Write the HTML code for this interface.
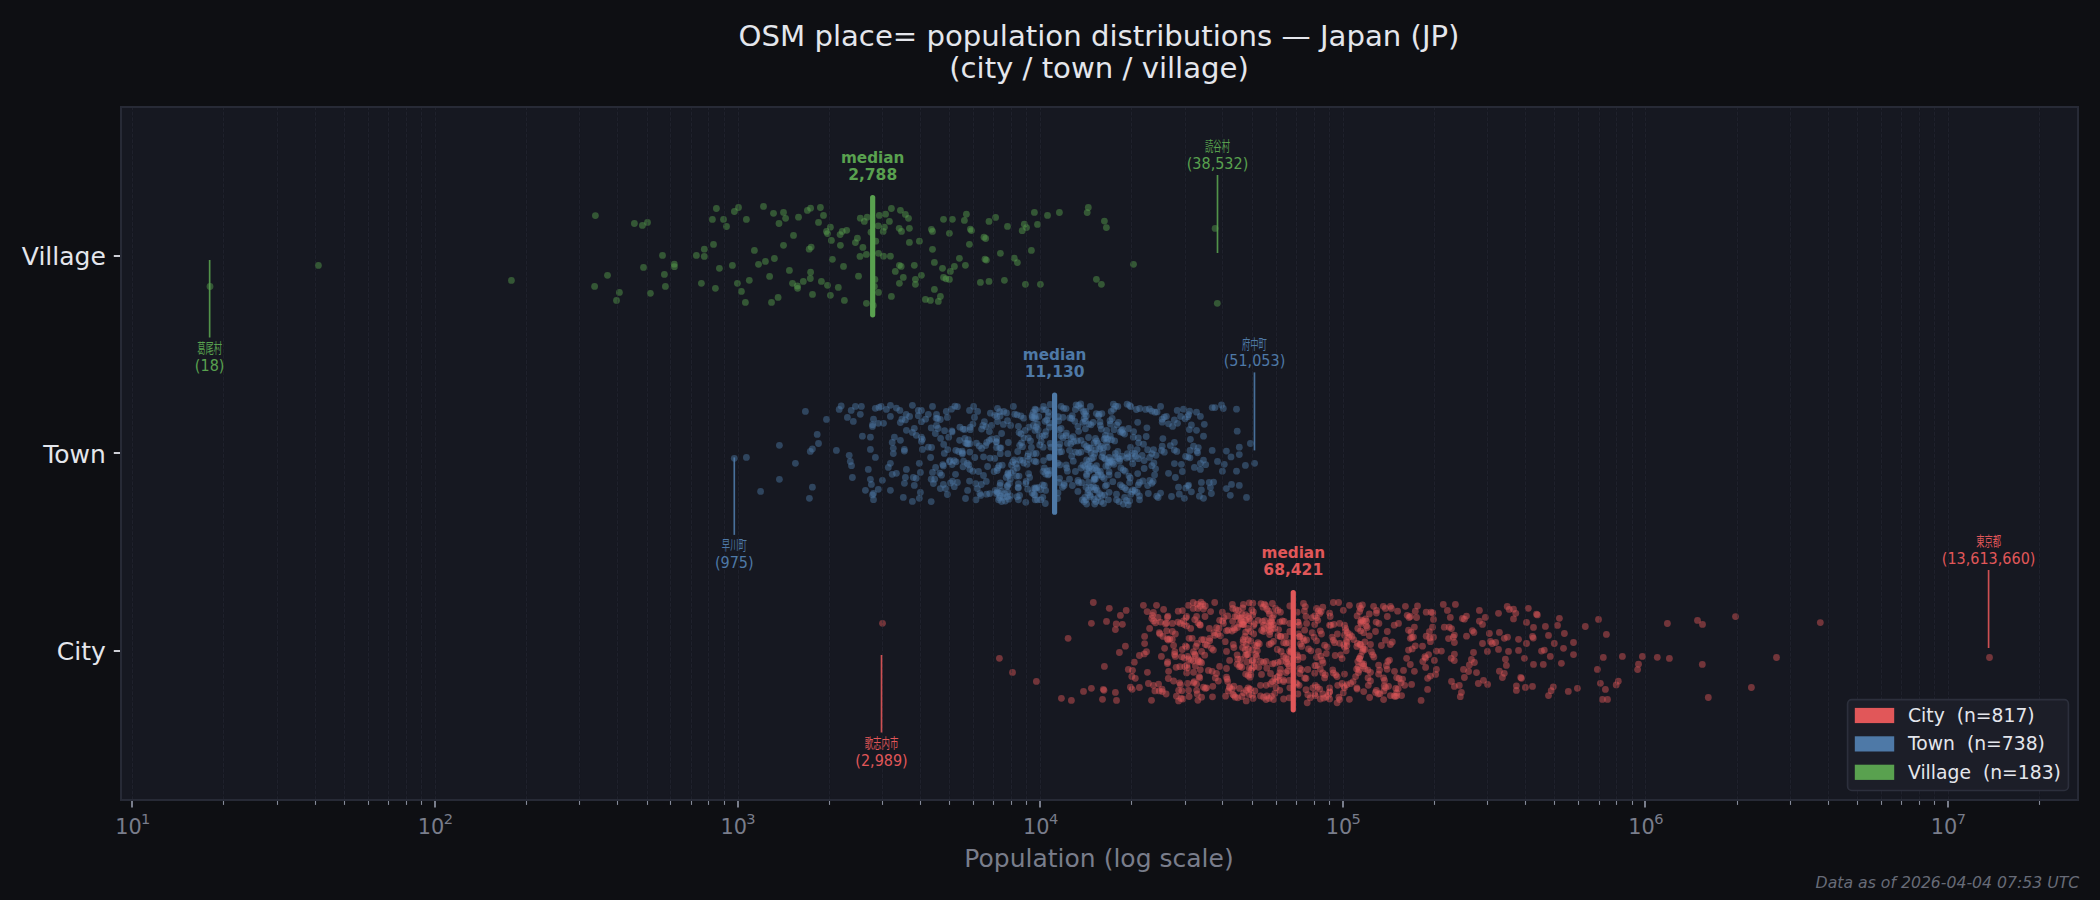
<!DOCTYPE html>
<html lang="ja"><head><meta charset="utf-8"><title>OSM place= population distributions — Japan (JP)</title>
<style>html,body{margin:0;padding:0;background:#0e0f13;}body{width:2100px;height:900px;overflow:hidden}svg{display:block}</style></head>
<body>
<svg width="2100" height="900" viewBox="0 0 2100 900" font-family="'DejaVu Sans', 'Liberation Sans', 'Noto Sans CJK JP', sans-serif">
<rect width="2100" height="900" fill="#0e0f13"/>
<rect x="121.0" y="107.0" width="1957.0" height="693.0" fill="#161821"/>
<g fill="#59a14f" fill-opacity="0.46">
<circle cx="595.4" cy="215.6" r="3.4"/>
<circle cx="634.4" cy="223.5" r="3.4"/>
<circle cx="642.4" cy="225.4" r="3.4"/>
<circle cx="647.5" cy="222.4" r="3.4"/>
<circle cx="716.4" cy="208.5" r="3.4"/>
<circle cx="738.5" cy="207.5" r="3.4"/>
<circle cx="734.4" cy="211.5" r="3.4"/>
<circle cx="763.5" cy="206.4" r="3.4"/>
<circle cx="773.5" cy="213.3" r="3.4"/>
<circle cx="712.4" cy="219.4" r="3.4"/>
<circle cx="723.5" cy="219.4" r="3.4"/>
<circle cx="746.4" cy="219.4" r="3.4"/>
<circle cx="726.5" cy="226.5" r="3.4"/>
<circle cx="779.0" cy="223.5" r="3.4"/>
<circle cx="713.5" cy="244.4" r="3.4"/>
<circle cx="704.3" cy="249.2" r="3.4"/>
<circle cx="696.4" cy="255.4" r="3.4"/>
<circle cx="704.3" cy="256.4" r="3.4"/>
<circle cx="662.5" cy="255.4" r="3.4"/>
<circle cx="754.4" cy="250.4" r="3.4"/>
<circle cx="674.3" cy="264.2" r="3.4"/>
<circle cx="674.4" cy="266.7" r="3.4"/>
<circle cx="643.5" cy="267.4" r="3.4"/>
<circle cx="774.4" cy="258.5" r="3.4"/>
<circle cx="765.4" cy="261.4" r="3.4"/>
<circle cx="758.5" cy="264.3" r="3.4"/>
<circle cx="732.4" cy="265.4" r="3.4"/>
<circle cx="719.4" cy="268.3" r="3.4"/>
<circle cx="607.5" cy="275.3" r="3.4"/>
<circle cx="664.4" cy="274.4" r="3.4"/>
<circle cx="769.6" cy="276.4" r="3.4"/>
<circle cx="749.3" cy="280.3" r="3.4"/>
<circle cx="737.4" cy="283.3" r="3.4"/>
<circle cx="701.4" cy="283.3" r="3.4"/>
<circle cx="594.6" cy="286.4" r="3.4"/>
<circle cx="665.4" cy="286.4" r="3.4"/>
<circle cx="715.4" cy="288.3" r="3.4"/>
<circle cx="741.4" cy="291.4" r="3.4"/>
<circle cx="619.4" cy="292.4" r="3.4"/>
<circle cx="650.4" cy="293.3" r="3.4"/>
<circle cx="616.5" cy="300.4" r="3.4"/>
<circle cx="745.4" cy="302.4" r="3.4"/>
<circle cx="771.5" cy="302.4" r="3.4"/>
<circle cx="778.1" cy="297.4" r="3.4"/>
<circle cx="783.5" cy="212.4" r="3.4"/>
<circle cx="785.6" cy="218.3" r="3.4"/>
<circle cx="798.5" cy="217.2" r="3.4"/>
<circle cx="807.4" cy="210.4" r="3.4"/>
<circle cx="810.6" cy="208.2" r="3.4"/>
<circle cx="820.4" cy="207.5" r="3.4"/>
<circle cx="823.5" cy="215.4" r="3.4"/>
<circle cx="818.5" cy="222.4" r="3.4"/>
<circle cx="793.5" cy="235.4" r="3.4"/>
<circle cx="783.5" cy="245.3" r="3.4"/>
<circle cx="830.4" cy="227.2" r="3.4"/>
<circle cx="826.5" cy="231.4" r="3.4"/>
<circle cx="827.5" cy="233.6" r="3.4"/>
<circle cx="831.4" cy="240.4" r="3.4"/>
<circle cx="809.2" cy="249.2" r="3.4"/>
<circle cx="811.2" cy="247.1" r="3.4"/>
<circle cx="840.4" cy="245.3" r="3.4"/>
<circle cx="840.1" cy="234.6" r="3.4"/>
<circle cx="842.2" cy="231.4" r="3.4"/>
<circle cx="846.7" cy="230.3" r="3.4"/>
<circle cx="832.4" cy="259.3" r="3.4"/>
<circle cx="843.5" cy="266.4" r="3.4"/>
<circle cx="789.4" cy="270.4" r="3.4"/>
<circle cx="810.6" cy="272.2" r="3.4"/>
<circle cx="810.3" cy="278.5" r="3.4"/>
<circle cx="803.3" cy="281.4" r="3.4"/>
<circle cx="792.5" cy="283.3" r="3.4"/>
<circle cx="797.4" cy="286.0" r="3.4"/>
<circle cx="797.6" cy="288.3" r="3.4"/>
<circle cx="821.4" cy="281.4" r="3.4"/>
<circle cx="827.5" cy="285.3" r="3.4"/>
<circle cx="838.3" cy="287.4" r="3.4"/>
<circle cx="812.5" cy="294.4" r="3.4"/>
<circle cx="830.4" cy="295.3" r="3.4"/>
<circle cx="844.4" cy="300.4" r="3.4"/>
<circle cx="857.4" cy="238.2" r="3.4"/>
<circle cx="855.4" cy="242.6" r="3.4"/>
<circle cx="860.3" cy="218.2" r="3.4"/>
<circle cx="864.3" cy="221.4" r="3.4"/>
<circle cx="867.2" cy="217.2" r="3.4"/>
<circle cx="866.4" cy="254.4" r="3.4"/>
<circle cx="858.5" cy="276.2" r="3.4"/>
<circle cx="866.4" cy="303.3" r="3.4"/>
<circle cx="871.0" cy="232.2" r="3.4"/>
<circle cx="875.8" cy="241.2" r="3.4"/>
<circle cx="874.9" cy="279.4" r="3.4"/>
<circle cx="874.4" cy="286.4" r="3.4"/>
<circle cx="873.3" cy="305.4" r="3.4"/>
<circle cx="879.3" cy="215.4" r="3.4"/>
<circle cx="885.6" cy="214.2" r="3.4"/>
<circle cx="891.4" cy="208.5" r="3.4"/>
<circle cx="900.4" cy="210.3" r="3.4"/>
<circle cx="905.4" cy="214.4" r="3.4"/>
<circle cx="908.5" cy="218.3" r="3.4"/>
<circle cx="889.4" cy="221.4" r="3.4"/>
<circle cx="878.2" cy="225.8" r="3.4"/>
<circle cx="884.4" cy="227.2" r="3.4"/>
<circle cx="883.2" cy="231.4" r="3.4"/>
<circle cx="899.2" cy="228.3" r="3.4"/>
<circle cx="901.5" cy="231.4" r="3.4"/>
<circle cx="909.4" cy="228.3" r="3.4"/>
<circle cx="909.4" cy="242.4" r="3.4"/>
<circle cx="919.4" cy="241.2" r="3.4"/>
<circle cx="878.5" cy="253.3" r="3.4"/>
<circle cx="883.5" cy="256.2" r="3.4"/>
<circle cx="890.4" cy="256.2" r="3.4"/>
<circle cx="899.4" cy="265.3" r="3.4"/>
<circle cx="901.2" cy="266.4" r="3.4"/>
<circle cx="895.3" cy="271.4" r="3.4"/>
<circle cx="914.3" cy="265.3" r="3.4"/>
<circle cx="903.3" cy="277.4" r="3.4"/>
<circle cx="899.4" cy="283.3" r="3.4"/>
<circle cx="915.4" cy="279.3" r="3.4"/>
<circle cx="915.4" cy="284.3" r="3.4"/>
<circle cx="921.4" cy="275.3" r="3.4"/>
<circle cx="878.5" cy="292.4" r="3.4"/>
<circle cx="891.4" cy="296.4" r="3.4"/>
<circle cx="925.4" cy="299.4" r="3.4"/>
<circle cx="930.4" cy="300.4" r="3.4"/>
<circle cx="938.3" cy="301.4" r="3.4"/>
<circle cx="940.4" cy="296.4" r="3.4"/>
<circle cx="934.4" cy="289.4" r="3.4"/>
<circle cx="931.4" cy="229.3" r="3.4"/>
<circle cx="932.5" cy="231.4" r="3.4"/>
<circle cx="943.5" cy="219.3" r="3.4"/>
<circle cx="952.4" cy="219.3" r="3.4"/>
<circle cx="949.4" cy="233.3" r="3.4"/>
<circle cx="932.5" cy="249.3" r="3.4"/>
<circle cx="934.4" cy="262.4" r="3.4"/>
<circle cx="942.5" cy="268.3" r="3.4"/>
<circle cx="950.4" cy="271.4" r="3.4"/>
<circle cx="954.4" cy="266.4" r="3.4"/>
<circle cx="959.4" cy="258.3" r="3.4"/>
<circle cx="965.4" cy="265.3" r="3.4"/>
<circle cx="943.5" cy="277.4" r="3.4"/>
<circle cx="946.0" cy="278.8" r="3.4"/>
<circle cx="949.4" cy="279.4" r="3.4"/>
<circle cx="966.4" cy="214.2" r="3.4"/>
<circle cx="964.4" cy="220.4" r="3.4"/>
<circle cx="970.4" cy="229.2" r="3.4"/>
<circle cx="971.5" cy="230.6" r="3.4"/>
<circle cx="969.4" cy="244.3" r="3.4"/>
<circle cx="984.0" cy="237.2" r="3.4"/>
<circle cx="985.7" cy="238.5" r="3.4"/>
<circle cx="985.0" cy="259.2" r="3.4"/>
<circle cx="986.4" cy="260.1" r="3.4"/>
<circle cx="980.4" cy="282.4" r="3.4"/>
<circle cx="989.0" cy="221.4" r="3.4"/>
<circle cx="989.0" cy="281.4" r="3.4"/>
<circle cx="995.6" cy="217.4" r="3.4"/>
<circle cx="1007.5" cy="226.4" r="3.4"/>
<circle cx="1024.3" cy="224.2" r="3.4"/>
<circle cx="1026.5" cy="227.6" r="3.4"/>
<circle cx="1022.2" cy="230.7" r="3.4"/>
<circle cx="1034.4" cy="212.4" r="3.4"/>
<circle cx="1037.5" cy="224.4" r="3.4"/>
<circle cx="1047.5" cy="215.4" r="3.4"/>
<circle cx="1059.4" cy="212.5" r="3.4"/>
<circle cx="1088.3" cy="207.5" r="3.4"/>
<circle cx="1087.2" cy="212.6" r="3.4"/>
<circle cx="1104.4" cy="221.1" r="3.4"/>
<circle cx="1106.4" cy="227.6" r="3.4"/>
<circle cx="1000.4" cy="253.3" r="3.4"/>
<circle cx="1031.4" cy="250.4" r="3.4"/>
<circle cx="1014.3" cy="258.2" r="3.4"/>
<circle cx="1017.4" cy="262.6" r="3.4"/>
<circle cx="1133.5" cy="264.3" r="3.4"/>
<circle cx="1004.4" cy="280.3" r="3.4"/>
<circle cx="1025.4" cy="284.3" r="3.4"/>
<circle cx="1040.4" cy="284.3" r="3.4"/>
<circle cx="1096.4" cy="279.3" r="3.4"/>
<circle cx="1101.4" cy="284.3" r="3.4"/>
<circle cx="210.0" cy="286.5" r="3.4"/>
<circle cx="318.4" cy="265.4" r="3.4"/>
<circle cx="511.4" cy="280.4" r="3.4"/>
<circle cx="1215.1" cy="228.4" r="3.4"/>
<circle cx="1217.3" cy="303.3" r="3.4"/>
<circle cx="862.9" cy="247.4" r="3.4"/>
<circle cx="860.0" cy="256.4" r="3.4"/>
</g>
<g fill="#4e79a7" fill-opacity="0.46">
<circle cx="932.5" cy="406.4" r="3.4"/>
<circle cx="936.5" cy="414.3" r="3.4"/>
<circle cx="946.3" cy="411.4" r="3.4"/>
<circle cx="951.5" cy="409.2" r="3.4"/>
<circle cx="954.9" cy="406.1" r="3.4"/>
<circle cx="957.4" cy="406.7" r="3.4"/>
<circle cx="947.4" cy="417.4" r="3.4"/>
<circle cx="937.5" cy="418.5" r="3.4"/>
<circle cx="940.3" cy="419.5" r="3.4"/>
<circle cx="973.6" cy="406.4" r="3.4"/>
<circle cx="969.5" cy="410.4" r="3.4"/>
<circle cx="977.6" cy="411.4" r="3.4"/>
<circle cx="974.5" cy="417.4" r="3.4"/>
<circle cx="997.5" cy="408.3" r="3.4"/>
<circle cx="1013.4" cy="406.4" r="3.4"/>
<circle cx="990.4" cy="413.2" r="3.4"/>
<circle cx="994.7" cy="415.1" r="3.4"/>
<circle cx="996.6" cy="416.4" r="3.4"/>
<circle cx="999.7" cy="411.7" r="3.4"/>
<circle cx="1003.7" cy="411.4" r="3.4"/>
<circle cx="1006.5" cy="412.9" r="3.4"/>
<circle cx="997.5" cy="421.6" r="3.4"/>
<circle cx="1007.5" cy="420.7" r="3.4"/>
<circle cx="1003.4" cy="424.4" r="3.4"/>
<circle cx="1010.6" cy="425.4" r="3.4"/>
<circle cx="1014.6" cy="414.2" r="3.4"/>
<circle cx="1017.1" cy="414.8" r="3.4"/>
<circle cx="1020.9" cy="416.0" r="3.4"/>
<circle cx="1023.7" cy="418.2" r="3.4"/>
<circle cx="1032.1" cy="415.4" r="3.4"/>
<circle cx="1035.0" cy="409.2" r="3.4"/>
<circle cx="1033.9" cy="418.5" r="3.4"/>
<circle cx="984.4" cy="421.6" r="3.4"/>
<circle cx="982.9" cy="425.4" r="3.4"/>
<circle cx="981.6" cy="429.1" r="3.4"/>
<circle cx="991.6" cy="425.4" r="3.4"/>
<circle cx="989.4" cy="431.6" r="3.4"/>
<circle cx="959.9" cy="427.2" r="3.4"/>
<circle cx="963.0" cy="429.1" r="3.4"/>
<circle cx="964.8" cy="429.4" r="3.4"/>
<circle cx="970.4" cy="427.2" r="3.4"/>
<circle cx="972.9" cy="424.1" r="3.4"/>
<circle cx="970.4" cy="429.7" r="3.4"/>
<circle cx="931.2" cy="427.9" r="3.4"/>
<circle cx="936.5" cy="425.4" r="3.4"/>
<circle cx="938.1" cy="428.5" r="3.4"/>
<circle cx="935.3" cy="433.5" r="3.4"/>
<circle cx="944.6" cy="430.7" r="3.4"/>
<circle cx="951.8" cy="431.0" r="3.4"/>
<circle cx="952.1" cy="431.9" r="3.4"/>
<circle cx="948.7" cy="437.2" r="3.4"/>
<circle cx="940.6" cy="438.4" r="3.4"/>
<circle cx="943.7" cy="444.4" r="3.4"/>
<circle cx="931.6" cy="447.5" r="3.4"/>
<circle cx="947.7" cy="449.6" r="3.4"/>
<circle cx="944.3" cy="453.4" r="3.4"/>
<circle cx="959.6" cy="440.3" r="3.4"/>
<circle cx="964.8" cy="438.4" r="3.4"/>
<circle cx="968.3" cy="439.7" r="3.4"/>
<circle cx="968.0" cy="444.0" r="3.4"/>
<circle cx="969.8" cy="443.7" r="3.4"/>
<circle cx="955.8" cy="450.3" r="3.4"/>
<circle cx="958.6" cy="451.5" r="3.4"/>
<circle cx="962.4" cy="452.8" r="3.4"/>
<circle cx="969.8" cy="452.1" r="3.4"/>
<circle cx="976.4" cy="443.1" r="3.4"/>
<circle cx="979.2" cy="445.9" r="3.4"/>
<circle cx="981.6" cy="448.4" r="3.4"/>
<circle cx="985.7" cy="445.6" r="3.4"/>
<circle cx="989.4" cy="440.3" r="3.4"/>
<circle cx="996.6" cy="438.4" r="3.4"/>
<circle cx="1001.6" cy="433.5" r="3.4"/>
<circle cx="1008.4" cy="442.5" r="3.4"/>
<circle cx="996.3" cy="447.5" r="3.4"/>
<circle cx="999.7" cy="447.8" r="3.4"/>
<circle cx="1000.9" cy="447.8" r="3.4"/>
<circle cx="1007.8" cy="453.7" r="3.4"/>
<circle cx="1000.3" cy="453.7" r="3.4"/>
<circle cx="1018.4" cy="426.3" r="3.4"/>
<circle cx="1019.0" cy="432.5" r="3.4"/>
<circle cx="1020.9" cy="433.8" r="3.4"/>
<circle cx="1025.2" cy="430.4" r="3.4"/>
<circle cx="1028.9" cy="427.2" r="3.4"/>
<circle cx="1033.3" cy="425.4" r="3.4"/>
<circle cx="1035.0" cy="430.4" r="3.4"/>
<circle cx="1024.0" cy="437.8" r="3.4"/>
<circle cx="1028.3" cy="437.8" r="3.4"/>
<circle cx="1030.5" cy="440.9" r="3.4"/>
<circle cx="1021.5" cy="442.8" r="3.4"/>
<circle cx="1019.6" cy="445.3" r="3.4"/>
<circle cx="1031.4" cy="447.5" r="3.4"/>
<circle cx="1017.7" cy="451.5" r="3.4"/>
<circle cx="1028.3" cy="453.7" r="3.4"/>
<circle cx="1033.6" cy="453.7" r="3.4"/>
<circle cx="974.8" cy="457.5" r="3.4"/>
<circle cx="983.5" cy="456.8" r="3.4"/>
<circle cx="990.0" cy="458.1" r="3.4"/>
<circle cx="994.7" cy="458.4" r="3.4"/>
<circle cx="930.6" cy="457.5" r="3.4"/>
<circle cx="949.9" cy="460.3" r="3.4"/>
<circle cx="954.3" cy="460.6" r="3.4"/>
<circle cx="956.1" cy="461.8" r="3.4"/>
<circle cx="952.1" cy="464.6" r="3.4"/>
<circle cx="942.8" cy="464.6" r="3.4"/>
<circle cx="943.4" cy="465.9" r="3.4"/>
<circle cx="935.6" cy="467.4" r="3.4"/>
<circle cx="963.6" cy="461.2" r="3.4"/>
<circle cx="967.3" cy="463.4" r="3.4"/>
<circle cx="968.9" cy="464.9" r="3.4"/>
<circle cx="963.0" cy="466.8" r="3.4"/>
<circle cx="969.8" cy="469.3" r="3.4"/>
<circle cx="972.9" cy="471.2" r="3.4"/>
<circle cx="978.5" cy="471.5" r="3.4"/>
<circle cx="987.6" cy="466.5" r="3.4"/>
<circle cx="983.5" cy="475.5" r="3.4"/>
<circle cx="999.1" cy="465.6" r="3.4"/>
<circle cx="1002.2" cy="465.2" r="3.4"/>
<circle cx="997.8" cy="468.0" r="3.4"/>
<circle cx="994.1" cy="471.5" r="3.4"/>
<circle cx="997.2" cy="470.5" r="3.4"/>
<circle cx="1012.8" cy="461.8" r="3.4"/>
<circle cx="1016.2" cy="464.0" r="3.4"/>
<circle cx="1011.5" cy="464.9" r="3.4"/>
<circle cx="1017.1" cy="468.0" r="3.4"/>
<circle cx="1019.9" cy="460.0" r="3.4"/>
<circle cx="1022.7" cy="460.3" r="3.4"/>
<circle cx="1027.7" cy="456.2" r="3.4"/>
<circle cx="1028.9" cy="459.3" r="3.4"/>
<circle cx="1027.1" cy="464.3" r="3.4"/>
<circle cx="1034.5" cy="461.2" r="3.4"/>
<circle cx="1010.9" cy="473.0" r="3.4"/>
<circle cx="1013.4" cy="470.5" r="3.4"/>
<circle cx="1009.0" cy="475.5" r="3.4"/>
<circle cx="1006.2" cy="477.4" r="3.4"/>
<circle cx="1016.5" cy="476.1" r="3.4"/>
<circle cx="1019.0" cy="476.1" r="3.4"/>
<circle cx="1010.3" cy="479.2" r="3.4"/>
<circle cx="1028.6" cy="473.6" r="3.4"/>
<circle cx="1029.6" cy="477.4" r="3.4"/>
<circle cx="932.5" cy="472.4" r="3.4"/>
<circle cx="941.5" cy="475.2" r="3.4"/>
<circle cx="955.5" cy="474.3" r="3.4"/>
<circle cx="934.7" cy="479.2" r="3.4"/>
<circle cx="931.2" cy="479.2" r="3.4"/>
<circle cx="933.4" cy="483.6" r="3.4"/>
<circle cx="952.4" cy="481.1" r="3.4"/>
<circle cx="950.5" cy="483.0" r="3.4"/>
<circle cx="957.4" cy="482.4" r="3.4"/>
<circle cx="943.4" cy="484.5" r="3.4"/>
<circle cx="954.3" cy="486.7" r="3.4"/>
<circle cx="940.3" cy="488.6" r="3.4"/>
<circle cx="945.6" cy="488.6" r="3.4"/>
<circle cx="947.4" cy="494.5" r="3.4"/>
<circle cx="969.5" cy="481.1" r="3.4"/>
<circle cx="975.7" cy="483.6" r="3.4"/>
<circle cx="981.3" cy="484.5" r="3.4"/>
<circle cx="986.3" cy="481.4" r="3.4"/>
<circle cx="967.6" cy="490.4" r="3.4"/>
<circle cx="977.3" cy="488.6" r="3.4"/>
<circle cx="979.8" cy="493.6" r="3.4"/>
<circle cx="980.7" cy="495.4" r="3.4"/>
<circle cx="965.5" cy="498.5" r="3.4"/>
<circle cx="976.0" cy="499.8" r="3.4"/>
<circle cx="986.6" cy="494.2" r="3.4"/>
<circle cx="989.7" cy="493.6" r="3.4"/>
<circle cx="1000.3" cy="483.0" r="3.4"/>
<circle cx="1000.0" cy="485.5" r="3.4"/>
<circle cx="1009.3" cy="483.6" r="3.4"/>
<circle cx="1007.2" cy="486.7" r="3.4"/>
<circle cx="1018.4" cy="483.6" r="3.4"/>
<circle cx="1018.1" cy="487.3" r="3.4"/>
<circle cx="1018.4" cy="488.0" r="3.4"/>
<circle cx="1025.8" cy="483.6" r="3.4"/>
<circle cx="1027.7" cy="489.2" r="3.4"/>
<circle cx="1034.5" cy="488.0" r="3.4"/>
<circle cx="1032.1" cy="492.9" r="3.4"/>
<circle cx="995.3" cy="490.4" r="3.4"/>
<circle cx="998.5" cy="492.9" r="3.4"/>
<circle cx="1001.6" cy="491.1" r="3.4"/>
<circle cx="1004.7" cy="493.6" r="3.4"/>
<circle cx="1007.8" cy="492.3" r="3.4"/>
<circle cx="1000.3" cy="496.0" r="3.4"/>
<circle cx="1003.4" cy="497.3" r="3.4"/>
<circle cx="1007.2" cy="496.7" r="3.4"/>
<circle cx="1010.3" cy="496.0" r="3.4"/>
<circle cx="998.5" cy="499.8" r="3.4"/>
<circle cx="1001.6" cy="501.6" r="3.4"/>
<circle cx="1005.3" cy="501.0" r="3.4"/>
<circle cx="1009.0" cy="499.2" r="3.4"/>
<circle cx="1017.1" cy="496.7" r="3.4"/>
<circle cx="1019.6" cy="495.4" r="3.4"/>
<circle cx="1018.4" cy="499.8" r="3.4"/>
<circle cx="1025.8" cy="502.3" r="3.4"/>
<circle cx="931.2" cy="501.6" r="3.4"/>
<circle cx="1035.2" cy="499.8" r="3.4"/>
<circle cx="1035.9" cy="409.8" r="3.4"/>
<circle cx="1043.4" cy="406.4" r="3.4"/>
<circle cx="1045.9" cy="409.8" r="3.4"/>
<circle cx="1048.4" cy="412.3" r="3.4"/>
<circle cx="1050.2" cy="404.5" r="3.4"/>
<circle cx="1038.7" cy="416.4" r="3.4"/>
<circle cx="1035.6" cy="418.5" r="3.4"/>
<circle cx="1048.4" cy="416.0" r="3.4"/>
<circle cx="1046.8" cy="419.8" r="3.4"/>
<circle cx="1045.0" cy="421.3" r="3.4"/>
<circle cx="1049.3" cy="422.9" r="3.4"/>
<circle cx="1037.5" cy="424.1" r="3.4"/>
<circle cx="1036.2" cy="427.2" r="3.4"/>
<circle cx="1038.1" cy="429.7" r="3.4"/>
<circle cx="1049.3" cy="427.2" r="3.4"/>
<circle cx="1045.9" cy="431.6" r="3.4"/>
<circle cx="1039.4" cy="436.0" r="3.4"/>
<circle cx="1042.5" cy="436.0" r="3.4"/>
<circle cx="1045.3" cy="435.3" r="3.4"/>
<circle cx="1041.2" cy="441.6" r="3.4"/>
<circle cx="1039.7" cy="445.0" r="3.4"/>
<circle cx="1043.1" cy="447.2" r="3.4"/>
<circle cx="1050.2" cy="443.4" r="3.4"/>
<circle cx="1050.9" cy="447.2" r="3.4"/>
<circle cx="1036.2" cy="453.4" r="3.4"/>
<circle cx="1061.1" cy="406.4" r="3.4"/>
<circle cx="1063.6" cy="408.3" r="3.4"/>
<circle cx="1066.1" cy="408.6" r="3.4"/>
<circle cx="1058.3" cy="416.7" r="3.4"/>
<circle cx="1063.0" cy="417.3" r="3.4"/>
<circle cx="1058.6" cy="421.0" r="3.4"/>
<circle cx="1061.1" cy="428.5" r="3.4"/>
<circle cx="1059.3" cy="429.7" r="3.4"/>
<circle cx="1066.4" cy="433.2" r="3.4"/>
<circle cx="1061.1" cy="436.0" r="3.4"/>
<circle cx="1063.0" cy="437.8" r="3.4"/>
<circle cx="1059.9" cy="444.0" r="3.4"/>
<circle cx="1059.0" cy="447.2" r="3.4"/>
<circle cx="1067.4" cy="443.4" r="3.4"/>
<circle cx="1069.5" cy="450.3" r="3.4"/>
<circle cx="1059.6" cy="452.1" r="3.4"/>
<circle cx="1076.1" cy="404.8" r="3.4"/>
<circle cx="1078.6" cy="405.5" r="3.4"/>
<circle cx="1080.7" cy="403.9" r="3.4"/>
<circle cx="1075.4" cy="409.5" r="3.4"/>
<circle cx="1081.0" cy="408.0" r="3.4"/>
<circle cx="1090.4" cy="406.4" r="3.4"/>
<circle cx="1083.5" cy="411.7" r="3.4"/>
<circle cx="1086.0" cy="411.4" r="3.4"/>
<circle cx="1072.3" cy="415.7" r="3.4"/>
<circle cx="1069.8" cy="417.9" r="3.4"/>
<circle cx="1071.7" cy="418.5" r="3.4"/>
<circle cx="1074.8" cy="421.3" r="3.4"/>
<circle cx="1086.3" cy="416.0" r="3.4"/>
<circle cx="1084.2" cy="418.5" r="3.4"/>
<circle cx="1085.4" cy="421.0" r="3.4"/>
<circle cx="1082.9" cy="422.3" r="3.4"/>
<circle cx="1077.9" cy="426.3" r="3.4"/>
<circle cx="1078.6" cy="431.3" r="3.4"/>
<circle cx="1085.4" cy="428.8" r="3.4"/>
<circle cx="1089.1" cy="424.1" r="3.4"/>
<circle cx="1093.2" cy="422.3" r="3.4"/>
<circle cx="1091.0" cy="424.8" r="3.4"/>
<circle cx="1096.3" cy="413.6" r="3.4"/>
<circle cx="1099.1" cy="414.2" r="3.4"/>
<circle cx="1101.9" cy="413.6" r="3.4"/>
<circle cx="1098.5" cy="416.0" r="3.4"/>
<circle cx="1100.0" cy="422.0" r="3.4"/>
<circle cx="1100.3" cy="425.4" r="3.4"/>
<circle cx="1101.3" cy="429.1" r="3.4"/>
<circle cx="1106.6" cy="430.4" r="3.4"/>
<circle cx="1113.4" cy="404.2" r="3.4"/>
<circle cx="1115.6" cy="406.1" r="3.4"/>
<circle cx="1117.8" cy="406.4" r="3.4"/>
<circle cx="1113.7" cy="409.2" r="3.4"/>
<circle cx="1111.2" cy="411.4" r="3.4"/>
<circle cx="1112.2" cy="418.5" r="3.4"/>
<circle cx="1110.0" cy="420.7" r="3.4"/>
<circle cx="1110.3" cy="424.1" r="3.4"/>
<circle cx="1118.4" cy="422.3" r="3.4"/>
<circle cx="1116.8" cy="424.8" r="3.4"/>
<circle cx="1114.0" cy="429.7" r="3.4"/>
<circle cx="1121.5" cy="430.4" r="3.4"/>
<circle cx="1120.3" cy="431.9" r="3.4"/>
<circle cx="1122.7" cy="432.8" r="3.4"/>
<circle cx="1124.6" cy="434.1" r="3.4"/>
<circle cx="1127.1" cy="404.2" r="3.4"/>
<circle cx="1129.6" cy="405.5" r="3.4"/>
<circle cx="1130.8" cy="406.7" r="3.4"/>
<circle cx="1136.4" cy="409.5" r="3.4"/>
<circle cx="1137.7" cy="422.3" r="3.4"/>
<circle cx="1128.7" cy="428.5" r="3.4"/>
<circle cx="1133.6" cy="431.6" r="3.4"/>
<circle cx="1133.3" cy="437.2" r="3.4"/>
<circle cx="1138.3" cy="437.8" r="3.4"/>
<circle cx="1138.6" cy="442.8" r="3.4"/>
<circle cx="1130.5" cy="447.5" r="3.4"/>
<circle cx="1137.1" cy="449.6" r="3.4"/>
<circle cx="1117.8" cy="451.5" r="3.4"/>
<circle cx="1115.3" cy="453.4" r="3.4"/>
<circle cx="1088.5" cy="437.5" r="3.4"/>
<circle cx="1073.0" cy="436.6" r="3.4"/>
<circle cx="1071.1" cy="438.4" r="3.4"/>
<circle cx="1073.6" cy="441.6" r="3.4"/>
<circle cx="1077.3" cy="440.9" r="3.4"/>
<circle cx="1081.0" cy="440.3" r="3.4"/>
<circle cx="1095.4" cy="438.4" r="3.4"/>
<circle cx="1096.6" cy="440.9" r="3.4"/>
<circle cx="1094.1" cy="442.8" r="3.4"/>
<circle cx="1097.9" cy="443.4" r="3.4"/>
<circle cx="1105.3" cy="435.3" r="3.4"/>
<circle cx="1110.3" cy="436.0" r="3.4"/>
<circle cx="1104.1" cy="439.1" r="3.4"/>
<circle cx="1107.8" cy="439.1" r="3.4"/>
<circle cx="1111.5" cy="439.7" r="3.4"/>
<circle cx="1114.7" cy="440.9" r="3.4"/>
<circle cx="1106.6" cy="442.2" r="3.4"/>
<circle cx="1084.2" cy="444.4" r="3.4"/>
<circle cx="1086.6" cy="446.5" r="3.4"/>
<circle cx="1089.1" cy="447.8" r="3.4"/>
<circle cx="1087.3" cy="449.6" r="3.4"/>
<circle cx="1101.0" cy="446.5" r="3.4"/>
<circle cx="1103.5" cy="447.8" r="3.4"/>
<circle cx="1099.7" cy="449.0" r="3.4"/>
<circle cx="1096.0" cy="449.6" r="3.4"/>
<circle cx="1107.2" cy="447.2" r="3.4"/>
<circle cx="1075.4" cy="452.1" r="3.4"/>
<circle cx="1078.6" cy="452.8" r="3.4"/>
<circle cx="1081.0" cy="452.1" r="3.4"/>
<circle cx="1091.0" cy="452.8" r="3.4"/>
<circle cx="1094.7" cy="453.4" r="3.4"/>
<circle cx="1102.8" cy="452.8" r="3.4"/>
<circle cx="1134.6" cy="453.4" r="3.4"/>
<circle cx="1132.1" cy="453.4" r="3.4"/>
<circle cx="1036.2" cy="461.8" r="3.4"/>
<circle cx="1043.4" cy="460.6" r="3.4"/>
<circle cx="1049.0" cy="457.5" r="3.4"/>
<circle cx="1050.2" cy="457.2" r="3.4"/>
<circle cx="1044.3" cy="468.0" r="3.4"/>
<circle cx="1043.1" cy="471.5" r="3.4"/>
<circle cx="1045.6" cy="474.0" r="3.4"/>
<circle cx="1048.1" cy="474.9" r="3.4"/>
<circle cx="1049.9" cy="470.5" r="3.4"/>
<circle cx="1042.5" cy="484.8" r="3.4"/>
<circle cx="1044.3" cy="485.5" r="3.4"/>
<circle cx="1038.7" cy="487.3" r="3.4"/>
<circle cx="1036.2" cy="488.0" r="3.4"/>
<circle cx="1040.6" cy="489.8" r="3.4"/>
<circle cx="1045.6" cy="490.4" r="3.4"/>
<circle cx="1042.8" cy="497.3" r="3.4"/>
<circle cx="1037.5" cy="499.8" r="3.4"/>
<circle cx="1045.3" cy="503.5" r="3.4"/>
<circle cx="1057.7" cy="463.1" r="3.4"/>
<circle cx="1058.0" cy="492.9" r="3.4"/>
<circle cx="1057.5" cy="498.5" r="3.4"/>
<circle cx="1059.9" cy="464.9" r="3.4"/>
<circle cx="1059.6" cy="478.3" r="3.4"/>
<circle cx="1059.0" cy="482.4" r="3.4"/>
<circle cx="1066.1" cy="464.9" r="3.4"/>
<circle cx="1066.7" cy="468.0" r="3.4"/>
<circle cx="1067.4" cy="471.2" r="3.4"/>
<circle cx="1064.2" cy="483.6" r="3.4"/>
<circle cx="1062.4" cy="487.3" r="3.4"/>
<circle cx="1064.2" cy="485.5" r="3.4"/>
<circle cx="1069.5" cy="479.2" r="3.4"/>
<circle cx="1072.3" cy="485.5" r="3.4"/>
<circle cx="1075.4" cy="471.5" r="3.4"/>
<circle cx="1073.3" cy="461.2" r="3.4"/>
<circle cx="1071.7" cy="456.2" r="3.4"/>
<circle cx="1077.9" cy="480.5" r="3.4"/>
<circle cx="1078.6" cy="482.4" r="3.4"/>
<circle cx="1081.7" cy="482.7" r="3.4"/>
<circle cx="1077.9" cy="491.4" r="3.4"/>
<circle cx="1081.0" cy="468.0" r="3.4"/>
<circle cx="1082.9" cy="464.9" r="3.4"/>
<circle cx="1084.8" cy="466.2" r="3.4"/>
<circle cx="1086.6" cy="460.0" r="3.4"/>
<circle cx="1089.1" cy="461.2" r="3.4"/>
<circle cx="1091.6" cy="458.7" r="3.4"/>
<circle cx="1093.5" cy="457.5" r="3.4"/>
<circle cx="1087.9" cy="464.3" r="3.4"/>
<circle cx="1090.4" cy="466.2" r="3.4"/>
<circle cx="1086.6" cy="469.3" r="3.4"/>
<circle cx="1089.1" cy="471.2" r="3.4"/>
<circle cx="1092.2" cy="469.3" r="3.4"/>
<circle cx="1094.7" cy="468.0" r="3.4"/>
<circle cx="1096.6" cy="469.9" r="3.4"/>
<circle cx="1086.6" cy="476.1" r="3.4"/>
<circle cx="1086.6" cy="474.3" r="3.4"/>
<circle cx="1094.7" cy="477.4" r="3.4"/>
<circle cx="1095.4" cy="479.2" r="3.4"/>
<circle cx="1088.5" cy="482.4" r="3.4"/>
<circle cx="1100.3" cy="471.2" r="3.4"/>
<circle cx="1102.2" cy="476.8" r="3.4"/>
<circle cx="1104.1" cy="478.6" r="3.4"/>
<circle cx="1101.0" cy="474.9" r="3.4"/>
<circle cx="1109.1" cy="471.8" r="3.4"/>
<circle cx="1109.1" cy="474.9" r="3.4"/>
<circle cx="1104.1" cy="458.1" r="3.4"/>
<circle cx="1105.3" cy="459.3" r="3.4"/>
<circle cx="1101.9" cy="456.8" r="3.4"/>
<circle cx="1109.1" cy="457.5" r="3.4"/>
<circle cx="1112.8" cy="462.4" r="3.4"/>
<circle cx="1114.0" cy="464.3" r="3.4"/>
<circle cx="1111.5" cy="461.2" r="3.4"/>
<circle cx="1105.9" cy="466.2" r="3.4"/>
<circle cx="1108.4" cy="462.4" r="3.4"/>
<circle cx="1115.3" cy="456.8" r="3.4"/>
<circle cx="1119.6" cy="461.2" r="3.4"/>
<circle cx="1117.8" cy="458.1" r="3.4"/>
<circle cx="1122.1" cy="456.2" r="3.4"/>
<circle cx="1126.5" cy="458.1" r="3.4"/>
<circle cx="1128.3" cy="456.8" r="3.4"/>
<circle cx="1132.1" cy="458.7" r="3.4"/>
<circle cx="1132.7" cy="463.7" r="3.4"/>
<circle cx="1138.3" cy="458.7" r="3.4"/>
<circle cx="1135.8" cy="456.2" r="3.4"/>
<circle cx="1117.8" cy="474.9" r="3.4"/>
<circle cx="1123.4" cy="469.9" r="3.4"/>
<circle cx="1125.2" cy="471.2" r="3.4"/>
<circle cx="1120.9" cy="468.0" r="3.4"/>
<circle cx="1129.0" cy="476.1" r="3.4"/>
<circle cx="1130.2" cy="478.0" r="3.4"/>
<circle cx="1129.6" cy="482.4" r="3.4"/>
<circle cx="1137.7" cy="473.6" r="3.4"/>
<circle cx="1112.8" cy="481.7" r="3.4"/>
<circle cx="1105.3" cy="486.1" r="3.4"/>
<circle cx="1106.6" cy="484.8" r="3.4"/>
<circle cx="1120.3" cy="484.8" r="3.4"/>
<circle cx="1122.1" cy="486.7" r="3.4"/>
<circle cx="1124.6" cy="488.0" r="3.4"/>
<circle cx="1126.5" cy="489.8" r="3.4"/>
<circle cx="1138.3" cy="484.8" r="3.4"/>
<circle cx="1139.5" cy="482.4" r="3.4"/>
<circle cx="1086.0" cy="487.3" r="3.4"/>
<circle cx="1088.5" cy="489.8" r="3.4"/>
<circle cx="1091.0" cy="487.3" r="3.4"/>
<circle cx="1093.5" cy="486.7" r="3.4"/>
<circle cx="1096.0" cy="488.0" r="3.4"/>
<circle cx="1097.2" cy="490.4" r="3.4"/>
<circle cx="1094.7" cy="489.8" r="3.4"/>
<circle cx="1087.9" cy="492.9" r="3.4"/>
<circle cx="1089.8" cy="494.8" r="3.4"/>
<circle cx="1099.7" cy="493.6" r="3.4"/>
<circle cx="1101.6" cy="495.4" r="3.4"/>
<circle cx="1109.1" cy="492.3" r="3.4"/>
<circle cx="1116.5" cy="494.2" r="3.4"/>
<circle cx="1108.4" cy="499.8" r="3.4"/>
<circle cx="1132.1" cy="491.7" r="3.4"/>
<circle cx="1134.6" cy="490.4" r="3.4"/>
<circle cx="1137.1" cy="492.3" r="3.4"/>
<circle cx="1130.8" cy="494.2" r="3.4"/>
<circle cx="1139.5" cy="496.0" r="3.4"/>
<circle cx="1124.6" cy="497.3" r="3.4"/>
<circle cx="1126.5" cy="500.4" r="3.4"/>
<circle cx="1129.6" cy="501.0" r="3.4"/>
<circle cx="1119.0" cy="501.6" r="3.4"/>
<circle cx="1116.5" cy="499.8" r="3.4"/>
<circle cx="1139.5" cy="499.8" r="3.4"/>
<circle cx="1082.3" cy="499.8" r="3.4"/>
<circle cx="1084.2" cy="501.6" r="3.4"/>
<circle cx="1086.0" cy="499.8" r="3.4"/>
<circle cx="1086.6" cy="504.1" r="3.4"/>
<circle cx="1084.8" cy="497.3" r="3.4"/>
<circle cx="1094.1" cy="499.2" r="3.4"/>
<circle cx="1096.0" cy="501.6" r="3.4"/>
<circle cx="1097.9" cy="497.3" r="3.4"/>
<circle cx="1101.0" cy="501.6" r="3.4"/>
<circle cx="1103.5" cy="503.5" r="3.4"/>
<circle cx="1094.7" cy="504.1" r="3.4"/>
<circle cx="1128.3" cy="504.8" r="3.4"/>
<circle cx="1123.4" cy="504.1" r="3.4"/>
<circle cx="1023.8" cy="463.0" r="3.4"/>
<circle cx="1008.0" cy="472.9" r="3.4"/>
<circle cx="966.9" cy="443.5" r="3.4"/>
<circle cx="1035.0" cy="415.7" r="3.4"/>
<circle cx="1000.1" cy="416.0" r="3.4"/>
<circle cx="997.1" cy="491.8" r="3.4"/>
<circle cx="936.1" cy="418.3" r="3.4"/>
<circle cx="962.4" cy="454.0" r="3.4"/>
<circle cx="1007.8" cy="474.2" r="3.4"/>
<circle cx="939.8" cy="473.1" r="3.4"/>
<circle cx="996.4" cy="493.5" r="3.4"/>
<circle cx="1040.8" cy="499.7" r="3.4"/>
<circle cx="999.5" cy="497.9" r="3.4"/>
<circle cx="1022.5" cy="446.7" r="3.4"/>
<circle cx="1014.1" cy="459.8" r="3.4"/>
<circle cx="1048.7" cy="474.0" r="3.4"/>
<circle cx="991.6" cy="438.9" r="3.4"/>
<circle cx="1035.1" cy="488.8" r="3.4"/>
<circle cx="1026.2" cy="481.5" r="3.4"/>
<circle cx="1033.3" cy="412.3" r="3.4"/>
<circle cx="985.9" cy="426.6" r="3.4"/>
<circle cx="965.6" cy="443.1" r="3.4"/>
<circle cx="962.2" cy="451.1" r="3.4"/>
<circle cx="1033.9" cy="494.6" r="3.4"/>
<circle cx="996.1" cy="442.0" r="3.4"/>
<circle cx="1042.3" cy="409.6" r="3.4"/>
<circle cx="986.8" cy="442.4" r="3.4"/>
<circle cx="1034.9" cy="495.0" r="3.4"/>
<circle cx="996.4" cy="441.7" r="3.4"/>
<circle cx="949.5" cy="461.7" r="3.4"/>
<circle cx="1032.2" cy="417.5" r="3.4"/>
<circle cx="1007.6" cy="485.5" r="3.4"/>
<circle cx="1047.1" cy="470.8" r="3.4"/>
<circle cx="1090.5" cy="496.4" r="3.4"/>
<circle cx="1132.9" cy="489.8" r="3.4"/>
<circle cx="1122.5" cy="429.4" r="3.4"/>
<circle cx="1139.7" cy="408.5" r="3.4"/>
<circle cx="1094.0" cy="480.0" r="3.4"/>
<circle cx="1061.5" cy="451.7" r="3.4"/>
<circle cx="1108.3" cy="465.7" r="3.4"/>
<circle cx="1094.2" cy="479.1" r="3.4"/>
<circle cx="1119.6" cy="458.9" r="3.4"/>
<circle cx="1096.5" cy="465.7" r="3.4"/>
<circle cx="1105.7" cy="438.1" r="3.4"/>
<circle cx="1066.1" cy="435.7" r="3.4"/>
<circle cx="1084.6" cy="413.8" r="3.4"/>
<circle cx="1098.2" cy="471.6" r="3.4"/>
<circle cx="1104.6" cy="495.1" r="3.4"/>
<circle cx="1110.1" cy="460.3" r="3.4"/>
<circle cx="1070.8" cy="443.8" r="3.4"/>
<circle cx="1109.6" cy="462.2" r="3.4"/>
<circle cx="1097.8" cy="475.2" r="3.4"/>
<circle cx="1090.6" cy="447.8" r="3.4"/>
<circle cx="1088.9" cy="467.7" r="3.4"/>
<circle cx="1127.4" cy="453.7" r="3.4"/>
<circle cx="734.3" cy="458.3" r="3.4"/>
<circle cx="746.4" cy="457.4" r="3.4"/>
<circle cx="779.4" cy="445.3" r="3.4"/>
<circle cx="779.4" cy="479.3" r="3.4"/>
<circle cx="760.6" cy="491.4" r="3.4"/>
<circle cx="795.4" cy="463.3" r="3.4"/>
<circle cx="805.4" cy="411.4" r="3.4"/>
<circle cx="826.5" cy="419.4" r="3.4"/>
<circle cx="817.2" cy="434.4" r="3.4"/>
<circle cx="818.5" cy="443.5" r="3.4"/>
<circle cx="812.4" cy="449.0" r="3.4"/>
<circle cx="810.3" cy="451.4" r="3.4"/>
<circle cx="812.4" cy="487.2" r="3.4"/>
<circle cx="809.4" cy="498.3" r="3.4"/>
<circle cx="836.4" cy="450.4" r="3.4"/>
<circle cx="841.2" cy="406.0" r="3.4"/>
<circle cx="839.2" cy="409.4" r="3.4"/>
<circle cx="847.4" cy="417.4" r="3.4"/>
<circle cx="851.2" cy="410.4" r="3.4"/>
<circle cx="855.4" cy="406.4" r="3.4"/>
<circle cx="861.4" cy="406.4" r="3.4"/>
<circle cx="860.3" cy="414.3" r="3.4"/>
<circle cx="853.3" cy="421.4" r="3.4"/>
<circle cx="862.4" cy="436.2" r="3.4"/>
<circle cx="870.4" cy="437.2" r="3.4"/>
<circle cx="870.4" cy="449.4" r="3.4"/>
<circle cx="849.2" cy="455.3" r="3.4"/>
<circle cx="850.3" cy="461.5" r="3.4"/>
<circle cx="851.5" cy="465.7" r="3.4"/>
<circle cx="852.4" cy="477.5" r="3.4"/>
<circle cx="868.3" cy="469.4" r="3.4"/>
<circle cx="875.4" cy="457.4" r="3.4"/>
<circle cx="870.4" cy="479.3" r="3.4"/>
<circle cx="871.4" cy="484.4" r="3.4"/>
<circle cx="865.4" cy="490.3" r="3.4"/>
<circle cx="878.3" cy="489.3" r="3.4"/>
<circle cx="873.5" cy="493.5" r="3.4"/>
<circle cx="872.5" cy="494.9" r="3.4"/>
<circle cx="873.5" cy="499.7" r="3.4"/>
<circle cx="882.4" cy="480.3" r="3.4"/>
<circle cx="890.4" cy="490.3" r="3.4"/>
<circle cx="875.3" cy="408.3" r="3.4"/>
<circle cx="879.0" cy="407.4" r="3.4"/>
<circle cx="881.1" cy="406.4" r="3.4"/>
<circle cx="886.4" cy="409.4" r="3.4"/>
<circle cx="890.4" cy="405.3" r="3.4"/>
<circle cx="896.4" cy="408.1" r="3.4"/>
<circle cx="899.9" cy="410.4" r="3.4"/>
<circle cx="890.4" cy="416.4" r="3.4"/>
<circle cx="873.5" cy="419.2" r="3.4"/>
<circle cx="872.5" cy="424.7" r="3.4"/>
<circle cx="872.5" cy="426.4" r="3.4"/>
<circle cx="878.3" cy="423.3" r="3.4"/>
<circle cx="883.5" cy="423.3" r="3.4"/>
<circle cx="912.4" cy="405.3" r="3.4"/>
<circle cx="906.1" cy="414.3" r="3.4"/>
<circle cx="909.6" cy="416.4" r="3.4"/>
<circle cx="901.9" cy="419.2" r="3.4"/>
<circle cx="905.4" cy="419.9" r="3.4"/>
<circle cx="900.3" cy="422.6" r="3.4"/>
<circle cx="918.3" cy="410.4" r="3.4"/>
<circle cx="921.4" cy="410.4" r="3.4"/>
<circle cx="918.3" cy="415.7" r="3.4"/>
<circle cx="921.4" cy="421.7" r="3.4"/>
<circle cx="925.6" cy="419.2" r="3.4"/>
<circle cx="928.3" cy="414.3" r="3.4"/>
<circle cx="914.3" cy="428.3" r="3.4"/>
<circle cx="906.4" cy="430.3" r="3.4"/>
<circle cx="912.4" cy="432.4" r="3.4"/>
<circle cx="916.2" cy="435.3" r="3.4"/>
<circle cx="921.4" cy="437.2" r="3.4"/>
<circle cx="922.4" cy="439.3" r="3.4"/>
<circle cx="921.4" cy="441.4" r="3.4"/>
<circle cx="894.4" cy="437.2" r="3.4"/>
<circle cx="900.4" cy="440.3" r="3.4"/>
<circle cx="892.2" cy="442.4" r="3.4"/>
<circle cx="893.3" cy="448.3" r="3.4"/>
<circle cx="893.3" cy="453.6" r="3.4"/>
<circle cx="904.4" cy="449.4" r="3.4"/>
<circle cx="904.4" cy="451.1" r="3.4"/>
<circle cx="922.4" cy="449.4" r="3.4"/>
<circle cx="928.3" cy="447.2" r="3.4"/>
<circle cx="890.4" cy="463.3" r="3.4"/>
<circle cx="888.3" cy="467.4" r="3.4"/>
<circle cx="892.2" cy="474.3" r="3.4"/>
<circle cx="896.4" cy="473.3" r="3.4"/>
<circle cx="906.4" cy="469.4" r="3.4"/>
<circle cx="919.3" cy="463.3" r="3.4"/>
<circle cx="920.4" cy="472.4" r="3.4"/>
<circle cx="905.4" cy="477.5" r="3.4"/>
<circle cx="913.3" cy="477.5" r="3.4"/>
<circle cx="916.2" cy="478.3" r="3.4"/>
<circle cx="904.4" cy="483.3" r="3.4"/>
<circle cx="914.3" cy="485.4" r="3.4"/>
<circle cx="920.4" cy="492.4" r="3.4"/>
<circle cx="919.3" cy="498.3" r="3.4"/>
<circle cx="903.3" cy="497.4" r="3.4"/>
<circle cx="912.4" cy="501.4" r="3.4"/>
<circle cx="1145.6" cy="409.4" r="3.4"/>
<circle cx="1149.4" cy="409.0" r="3.4"/>
<circle cx="1151.8" cy="411.1" r="3.4"/>
<circle cx="1155.0" cy="412.2" r="3.4"/>
<circle cx="1157.1" cy="411.9" r="3.4"/>
<circle cx="1160.6" cy="406.4" r="3.4"/>
<circle cx="1162.2" cy="419.2" r="3.4"/>
<circle cx="1164.3" cy="417.1" r="3.4"/>
<circle cx="1166.4" cy="416.4" r="3.4"/>
<circle cx="1162.2" cy="422.2" r="3.4"/>
<circle cx="1168.5" cy="423.8" r="3.4"/>
<circle cx="1172.6" cy="426.4" r="3.4"/>
<circle cx="1174.3" cy="419.9" r="3.4"/>
<circle cx="1177.5" cy="423.3" r="3.4"/>
<circle cx="1177.2" cy="410.4" r="3.4"/>
<circle cx="1183.5" cy="409.2" r="3.4"/>
<circle cx="1180.6" cy="416.4" r="3.4"/>
<circle cx="1185.1" cy="418.8" r="3.4"/>
<circle cx="1187.6" cy="416.7" r="3.4"/>
<circle cx="1189.6" cy="411.2" r="3.4"/>
<circle cx="1188.6" cy="414.7" r="3.4"/>
<circle cx="1196.5" cy="412.2" r="3.4"/>
<circle cx="1200.4" cy="416.4" r="3.4"/>
<circle cx="1204.3" cy="424.3" r="3.4"/>
<circle cx="1191.4" cy="425.0" r="3.4"/>
<circle cx="1189.3" cy="429.6" r="3.4"/>
<circle cx="1196.5" cy="430.3" r="3.4"/>
<circle cx="1203.5" cy="436.2" r="3.4"/>
<circle cx="1190.4" cy="439.3" r="3.4"/>
<circle cx="1146.9" cy="427.8" r="3.4"/>
<circle cx="1146.2" cy="436.5" r="3.4"/>
<circle cx="1143.5" cy="444.2" r="3.4"/>
<circle cx="1162.9" cy="438.6" r="3.4"/>
<circle cx="1162.2" cy="446.2" r="3.4"/>
<circle cx="1161.5" cy="450.4" r="3.4"/>
<circle cx="1164.3" cy="452.2" r="3.4"/>
<circle cx="1170.3" cy="445.6" r="3.4"/>
<circle cx="1174.4" cy="442.4" r="3.4"/>
<circle cx="1174.3" cy="450.0" r="3.4"/>
<circle cx="1176.8" cy="451.4" r="3.4"/>
<circle cx="1147.6" cy="449.7" r="3.4"/>
<circle cx="1153.5" cy="449.7" r="3.4"/>
<circle cx="1151.8" cy="453.6" r="3.4"/>
<circle cx="1156.0" cy="455.3" r="3.4"/>
<circle cx="1149.7" cy="457.4" r="3.4"/>
<circle cx="1142.1" cy="455.3" r="3.4"/>
<circle cx="1144.2" cy="460.6" r="3.4"/>
<circle cx="1193.5" cy="446.2" r="3.4"/>
<circle cx="1198.3" cy="447.6" r="3.4"/>
<circle cx="1190.0" cy="450.4" r="3.4"/>
<circle cx="1196.9" cy="451.1" r="3.4"/>
<circle cx="1197.6" cy="452.8" r="3.4"/>
<circle cx="1185.6" cy="456.4" r="3.4"/>
<circle cx="1187.9" cy="456.9" r="3.4"/>
<circle cx="1190.0" cy="457.8" r="3.4"/>
<circle cx="1212.2" cy="450.4" r="3.4"/>
<circle cx="1226.4" cy="451.1" r="3.4"/>
<circle cx="1239.3" cy="447.2" r="3.4"/>
<circle cx="1250.4" cy="443.5" r="3.4"/>
<circle cx="1239.3" cy="454.6" r="3.4"/>
<circle cx="1231.0" cy="456.9" r="3.4"/>
<circle cx="1217.5" cy="461.4" r="3.4"/>
<circle cx="1224.3" cy="464.3" r="3.4"/>
<circle cx="1254.6" cy="463.3" r="3.4"/>
<circle cx="1245.4" cy="465.4" r="3.4"/>
<circle cx="1236.5" cy="471.2" r="3.4"/>
<circle cx="1222.4" cy="471.2" r="3.4"/>
<circle cx="1203.5" cy="460.1" r="3.4"/>
<circle cx="1200.4" cy="463.3" r="3.4"/>
<circle cx="1205.7" cy="464.7" r="3.4"/>
<circle cx="1194.4" cy="467.4" r="3.4"/>
<circle cx="1200.4" cy="469.4" r="3.4"/>
<circle cx="1174.4" cy="463.6" r="3.4"/>
<circle cx="1181.4" cy="464.3" r="3.4"/>
<circle cx="1182.4" cy="471.5" r="3.4"/>
<circle cx="1168.5" cy="473.3" r="3.4"/>
<circle cx="1175.4" cy="477.5" r="3.4"/>
<circle cx="1153.9" cy="462.9" r="3.4"/>
<circle cx="1151.8" cy="465.7" r="3.4"/>
<circle cx="1155.6" cy="468.8" r="3.4"/>
<circle cx="1144.2" cy="468.5" r="3.4"/>
<circle cx="1154.6" cy="475.0" r="3.4"/>
<circle cx="1149.7" cy="480.3" r="3.4"/>
<circle cx="1153.2" cy="481.4" r="3.4"/>
<circle cx="1151.8" cy="483.3" r="3.4"/>
<circle cx="1147.6" cy="485.6" r="3.4"/>
<circle cx="1142.8" cy="481.0" r="3.4"/>
<circle cx="1148.3" cy="493.5" r="3.4"/>
<circle cx="1160.6" cy="493.1" r="3.4"/>
<circle cx="1156.7" cy="496.2" r="3.4"/>
<circle cx="1158.1" cy="497.6" r="3.4"/>
<circle cx="1171.5" cy="496.5" r="3.4"/>
<circle cx="1179.3" cy="494.2" r="3.4"/>
<circle cx="1184.4" cy="498.3" r="3.4"/>
<circle cx="1178.5" cy="487.2" r="3.4"/>
<circle cx="1185.8" cy="487.9" r="3.4"/>
<circle cx="1188.6" cy="485.1" r="3.4"/>
<circle cx="1187.9" cy="486.1" r="3.4"/>
<circle cx="1191.4" cy="491.8" r="3.4"/>
<circle cx="1201.4" cy="482.4" r="3.4"/>
<circle cx="1201.4" cy="490.0" r="3.4"/>
<circle cx="1199.4" cy="496.2" r="3.4"/>
<circle cx="1203.5" cy="498.3" r="3.4"/>
<circle cx="1209.2" cy="482.4" r="3.4"/>
<circle cx="1213.6" cy="482.1" r="3.4"/>
<circle cx="1210.4" cy="487.6" r="3.4"/>
<circle cx="1211.4" cy="493.5" r="3.4"/>
<circle cx="1226.4" cy="488.6" r="3.4"/>
<circle cx="1231.5" cy="484.4" r="3.4"/>
<circle cx="1239.3" cy="485.4" r="3.4"/>
<circle cx="1230.3" cy="495.3" r="3.4"/>
<circle cx="1246.5" cy="497.4" r="3.4"/>
<circle cx="1212.2" cy="407.6" r="3.4"/>
<circle cx="1215.0" cy="407.6" r="3.4"/>
<circle cx="1221.5" cy="405.0" r="3.4"/>
<circle cx="1223.3" cy="408.5" r="3.4"/>
<circle cx="1236.5" cy="409.2" r="3.4"/>
<circle cx="1237.2" cy="431.2" r="3.4"/>
</g>
<g fill="#e15759" fill-opacity="0.46">
<circle cx="1143.4" cy="605.3" r="3.4"/>
<circle cx="1156.5" cy="605.3" r="3.4"/>
<circle cx="1163.6" cy="609.4" r="3.4"/>
<circle cx="1147.1" cy="611.6" r="3.4"/>
<circle cx="1153.4" cy="612.5" r="3.4"/>
<circle cx="1152.4" cy="615.3" r="3.4"/>
<circle cx="1151.8" cy="618.4" r="3.4"/>
<circle cx="1158.0" cy="617.5" r="3.4"/>
<circle cx="1153.7" cy="620.9" r="3.4"/>
<circle cx="1155.5" cy="622.8" r="3.4"/>
<circle cx="1160.5" cy="622.1" r="3.4"/>
<circle cx="1167.4" cy="617.5" r="3.4"/>
<circle cx="1165.5" cy="624.0" r="3.4"/>
<circle cx="1172.3" cy="623.4" r="3.4"/>
<circle cx="1149.6" cy="628.4" r="3.4"/>
<circle cx="1178.2" cy="611.2" r="3.4"/>
<circle cx="1182.6" cy="610.6" r="3.4"/>
<circle cx="1177.9" cy="622.1" r="3.4"/>
<circle cx="1180.4" cy="623.4" r="3.4"/>
<circle cx="1183.5" cy="620.9" r="3.4"/>
<circle cx="1186.0" cy="617.8" r="3.4"/>
<circle cx="1186.6" cy="616.5" r="3.4"/>
<circle cx="1184.2" cy="624.6" r="3.4"/>
<circle cx="1186.6" cy="625.9" r="3.4"/>
<circle cx="1190.7" cy="628.4" r="3.4"/>
<circle cx="1188.2" cy="605.3" r="3.4"/>
<circle cx="1193.2" cy="602.5" r="3.4"/>
<circle cx="1193.2" cy="608.4" r="3.4"/>
<circle cx="1197.2" cy="604.1" r="3.4"/>
<circle cx="1201.0" cy="602.2" r="3.4"/>
<circle cx="1202.8" cy="604.1" r="3.4"/>
<circle cx="1200.3" cy="606.0" r="3.4"/>
<circle cx="1205.3" cy="606.0" r="3.4"/>
<circle cx="1203.5" cy="609.1" r="3.4"/>
<circle cx="1197.9" cy="608.4" r="3.4"/>
<circle cx="1210.6" cy="611.6" r="3.4"/>
<circle cx="1214.7" cy="602.5" r="3.4"/>
<circle cx="1205.0" cy="616.5" r="3.4"/>
<circle cx="1196.6" cy="616.5" r="3.4"/>
<circle cx="1194.7" cy="619.6" r="3.4"/>
<circle cx="1197.9" cy="622.8" r="3.4"/>
<circle cx="1199.7" cy="624.6" r="3.4"/>
<circle cx="1200.3" cy="625.2" r="3.4"/>
<circle cx="1232.4" cy="604.4" r="3.4"/>
<circle cx="1232.7" cy="608.4" r="3.4"/>
<circle cx="1235.8" cy="609.7" r="3.4"/>
<circle cx="1238.3" cy="610.3" r="3.4"/>
<circle cx="1222.4" cy="612.2" r="3.4"/>
<circle cx="1227.7" cy="615.9" r="3.4"/>
<circle cx="1224.0" cy="617.8" r="3.4"/>
<circle cx="1219.6" cy="620.3" r="3.4"/>
<circle cx="1222.7" cy="620.9" r="3.4"/>
<circle cx="1223.4" cy="623.4" r="3.4"/>
<circle cx="1232.7" cy="621.2" r="3.4"/>
<circle cx="1237.1" cy="615.9" r="3.4"/>
<circle cx="1239.5" cy="617.8" r="3.4"/>
<circle cx="1239.5" cy="624.0" r="3.4"/>
<circle cx="1209.4" cy="628.4" r="3.4"/>
<circle cx="1216.5" cy="627.7" r="3.4"/>
<circle cx="1219.0" cy="628.4" r="3.4"/>
<circle cx="1214.0" cy="632.7" r="3.4"/>
<circle cx="1217.8" cy="634.0" r="3.4"/>
<circle cx="1220.3" cy="635.8" r="3.4"/>
<circle cx="1226.5" cy="630.8" r="3.4"/>
<circle cx="1228.3" cy="630.2" r="3.4"/>
<circle cx="1233.9" cy="627.7" r="3.4"/>
<circle cx="1234.6" cy="629.6" r="3.4"/>
<circle cx="1166.7" cy="630.8" r="3.4"/>
<circle cx="1172.3" cy="631.5" r="3.4"/>
<circle cx="1175.4" cy="634.0" r="3.4"/>
<circle cx="1159.3" cy="632.7" r="3.4"/>
<circle cx="1159.9" cy="634.0" r="3.4"/>
<circle cx="1163.0" cy="636.4" r="3.4"/>
<circle cx="1167.4" cy="638.9" r="3.4"/>
<circle cx="1169.8" cy="638.9" r="3.4"/>
<circle cx="1172.3" cy="639.6" r="3.4"/>
<circle cx="1144.6" cy="636.4" r="3.4"/>
<circle cx="1144.6" cy="643.6" r="3.4"/>
<circle cx="1164.6" cy="648.3" r="3.4"/>
<circle cx="1173.6" cy="645.5" r="3.4"/>
<circle cx="1146.5" cy="651.7" r="3.4"/>
<circle cx="1189.1" cy="638.3" r="3.4"/>
<circle cx="1192.2" cy="638.3" r="3.4"/>
<circle cx="1201.6" cy="639.6" r="3.4"/>
<circle cx="1209.7" cy="638.3" r="3.4"/>
<circle cx="1209.7" cy="640.8" r="3.4"/>
<circle cx="1205.3" cy="644.5" r="3.4"/>
<circle cx="1207.2" cy="645.2" r="3.4"/>
<circle cx="1197.2" cy="643.3" r="3.4"/>
<circle cx="1196.0" cy="646.4" r="3.4"/>
<circle cx="1185.4" cy="645.8" r="3.4"/>
<circle cx="1186.6" cy="647.0" r="3.4"/>
<circle cx="1182.3" cy="649.5" r="3.4"/>
<circle cx="1201.6" cy="651.4" r="3.4"/>
<circle cx="1211.5" cy="648.3" r="3.4"/>
<circle cx="1213.4" cy="650.1" r="3.4"/>
<circle cx="1225.2" cy="641.7" r="3.4"/>
<circle cx="1233.3" cy="644.5" r="3.4"/>
<circle cx="1233.9" cy="647.6" r="3.4"/>
<circle cx="1226.5" cy="651.4" r="3.4"/>
<circle cx="1174.8" cy="651.7" r="3.4"/>
<circle cx="1193.5" cy="651.7" r="3.4"/>
<circle cx="1139.4" cy="655.5" r="3.4"/>
<circle cx="1144.3" cy="653.9" r="3.4"/>
<circle cx="1161.4" cy="656.4" r="3.4"/>
<circle cx="1139.4" cy="687.5" r="3.4"/>
<circle cx="1147.4" cy="672.3" r="3.4"/>
<circle cx="1148.4" cy="683.5" r="3.4"/>
<circle cx="1153.4" cy="685.3" r="3.4"/>
<circle cx="1158.6" cy="684.1" r="3.4"/>
<circle cx="1154.9" cy="690.9" r="3.4"/>
<circle cx="1159.3" cy="690.9" r="3.4"/>
<circle cx="1162.4" cy="691.6" r="3.4"/>
<circle cx="1166.1" cy="694.0" r="3.4"/>
<circle cx="1151.5" cy="700.3" r="3.4"/>
<circle cx="1167.7" cy="662.0" r="3.4"/>
<circle cx="1167.4" cy="663.6" r="3.4"/>
<circle cx="1168.6" cy="671.3" r="3.4"/>
<circle cx="1168.3" cy="678.5" r="3.4"/>
<circle cx="1173.6" cy="681.0" r="3.4"/>
<circle cx="1174.5" cy="654.5" r="3.4"/>
<circle cx="1175.4" cy="656.4" r="3.4"/>
<circle cx="1181.7" cy="656.7" r="3.4"/>
<circle cx="1184.2" cy="658.0" r="3.4"/>
<circle cx="1188.5" cy="658.9" r="3.4"/>
<circle cx="1191.0" cy="659.8" r="3.4"/>
<circle cx="1194.7" cy="654.2" r="3.4"/>
<circle cx="1195.4" cy="655.5" r="3.4"/>
<circle cx="1204.7" cy="655.2" r="3.4"/>
<circle cx="1197.9" cy="659.8" r="3.4"/>
<circle cx="1200.3" cy="661.7" r="3.4"/>
<circle cx="1201.6" cy="662.9" r="3.4"/>
<circle cx="1176.1" cy="667.3" r="3.4"/>
<circle cx="1179.8" cy="666.7" r="3.4"/>
<circle cx="1184.8" cy="666.7" r="3.4"/>
<circle cx="1187.3" cy="667.9" r="3.4"/>
<circle cx="1186.6" cy="672.9" r="3.4"/>
<circle cx="1193.5" cy="672.3" r="3.4"/>
<circle cx="1195.4" cy="666.0" r="3.4"/>
<circle cx="1200.3" cy="669.8" r="3.4"/>
<circle cx="1199.1" cy="676.6" r="3.4"/>
<circle cx="1199.7" cy="677.9" r="3.4"/>
<circle cx="1208.4" cy="670.4" r="3.4"/>
<circle cx="1212.2" cy="671.3" r="3.4"/>
<circle cx="1216.5" cy="673.5" r="3.4"/>
<circle cx="1215.3" cy="677.9" r="3.4"/>
<circle cx="1218.4" cy="681.0" r="3.4"/>
<circle cx="1219.6" cy="666.4" r="3.4"/>
<circle cx="1226.5" cy="668.5" r="3.4"/>
<circle cx="1229.6" cy="660.4" r="3.4"/>
<circle cx="1226.5" cy="677.2" r="3.4"/>
<circle cx="1227.1" cy="679.1" r="3.4"/>
<circle cx="1227.7" cy="681.6" r="3.4"/>
<circle cx="1237.1" cy="654.8" r="3.4"/>
<circle cx="1237.7" cy="659.2" r="3.4"/>
<circle cx="1237.1" cy="664.2" r="3.4"/>
<circle cx="1239.5" cy="666.7" r="3.4"/>
<circle cx="1179.5" cy="682.8" r="3.4"/>
<circle cx="1180.4" cy="684.7" r="3.4"/>
<circle cx="1187.6" cy="683.5" r="3.4"/>
<circle cx="1193.5" cy="682.8" r="3.4"/>
<circle cx="1196.6" cy="684.1" r="3.4"/>
<circle cx="1178.6" cy="690.3" r="3.4"/>
<circle cx="1188.5" cy="690.3" r="3.4"/>
<circle cx="1196.6" cy="690.3" r="3.4"/>
<circle cx="1197.2" cy="694.0" r="3.4"/>
<circle cx="1203.5" cy="687.2" r="3.4"/>
<circle cx="1205.3" cy="688.4" r="3.4"/>
<circle cx="1206.6" cy="687.8" r="3.4"/>
<circle cx="1212.8" cy="686.3" r="3.4"/>
<circle cx="1176.4" cy="696.2" r="3.4"/>
<circle cx="1181.0" cy="698.4" r="3.4"/>
<circle cx="1182.9" cy="699.0" r="3.4"/>
<circle cx="1178.6" cy="700.9" r="3.4"/>
<circle cx="1189.1" cy="696.5" r="3.4"/>
<circle cx="1197.9" cy="700.3" r="3.4"/>
<circle cx="1201.6" cy="697.2" r="3.4"/>
<circle cx="1212.5" cy="696.8" r="3.4"/>
<circle cx="1225.5" cy="696.2" r="3.4"/>
<circle cx="1229.6" cy="687.8" r="3.4"/>
<circle cx="1232.1" cy="689.1" r="3.4"/>
<circle cx="1239.5" cy="688.4" r="3.4"/>
<circle cx="1233.9" cy="695.3" r="3.4"/>
<circle cx="1235.2" cy="697.2" r="3.4"/>
<circle cx="1237.7" cy="697.8" r="3.4"/>
<circle cx="1243.4" cy="604.4" r="3.4"/>
<circle cx="1249.3" cy="602.8" r="3.4"/>
<circle cx="1252.8" cy="603.2" r="3.4"/>
<circle cx="1242.8" cy="607.8" r="3.4"/>
<circle cx="1251.8" cy="610.0" r="3.4"/>
<circle cx="1253.4" cy="611.9" r="3.4"/>
<circle cx="1241.9" cy="614.0" r="3.4"/>
<circle cx="1245.6" cy="614.7" r="3.4"/>
<circle cx="1248.1" cy="616.5" r="3.4"/>
<circle cx="1241.2" cy="620.3" r="3.4"/>
<circle cx="1243.7" cy="622.1" r="3.4"/>
<circle cx="1245.6" cy="620.3" r="3.4"/>
<circle cx="1249.3" cy="618.4" r="3.4"/>
<circle cx="1243.7" cy="624.6" r="3.4"/>
<circle cx="1254.3" cy="624.0" r="3.4"/>
<circle cx="1258.0" cy="620.3" r="3.4"/>
<circle cx="1248.1" cy="628.4" r="3.4"/>
<circle cx="1245.6" cy="632.1" r="3.4"/>
<circle cx="1250.6" cy="631.5" r="3.4"/>
<circle cx="1253.7" cy="634.0" r="3.4"/>
<circle cx="1245.0" cy="636.4" r="3.4"/>
<circle cx="1248.1" cy="639.6" r="3.4"/>
<circle cx="1243.1" cy="642.0" r="3.4"/>
<circle cx="1246.2" cy="644.5" r="3.4"/>
<circle cx="1258.0" cy="642.7" r="3.4"/>
<circle cx="1254.9" cy="645.2" r="3.4"/>
<circle cx="1259.3" cy="643.9" r="3.4"/>
<circle cx="1242.5" cy="647.6" r="3.4"/>
<circle cx="1248.1" cy="648.9" r="3.4"/>
<circle cx="1252.4" cy="650.1" r="3.4"/>
<circle cx="1257.4" cy="650.8" r="3.4"/>
<circle cx="1264.3" cy="604.1" r="3.4"/>
<circle cx="1265.5" cy="605.3" r="3.4"/>
<circle cx="1263.0" cy="607.2" r="3.4"/>
<circle cx="1266.8" cy="609.1" r="3.4"/>
<circle cx="1268.6" cy="610.9" r="3.4"/>
<circle cx="1272.4" cy="603.5" r="3.4"/>
<circle cx="1275.5" cy="608.4" r="3.4"/>
<circle cx="1278.0" cy="610.3" r="3.4"/>
<circle cx="1280.4" cy="612.2" r="3.4"/>
<circle cx="1273.9" cy="614.7" r="3.4"/>
<circle cx="1272.4" cy="617.8" r="3.4"/>
<circle cx="1271.1" cy="620.3" r="3.4"/>
<circle cx="1269.9" cy="622.8" r="3.4"/>
<circle cx="1262.4" cy="621.5" r="3.4"/>
<circle cx="1263.6" cy="625.2" r="3.4"/>
<circle cx="1268.6" cy="625.9" r="3.4"/>
<circle cx="1264.3" cy="628.4" r="3.4"/>
<circle cx="1263.6" cy="631.5" r="3.4"/>
<circle cx="1269.2" cy="629.6" r="3.4"/>
<circle cx="1269.6" cy="634.6" r="3.4"/>
<circle cx="1273.6" cy="624.6" r="3.4"/>
<circle cx="1274.8" cy="628.4" r="3.4"/>
<circle cx="1278.6" cy="629.6" r="3.4"/>
<circle cx="1279.8" cy="622.1" r="3.4"/>
<circle cx="1282.3" cy="620.9" r="3.4"/>
<circle cx="1284.2" cy="621.5" r="3.4"/>
<circle cx="1278.0" cy="635.8" r="3.4"/>
<circle cx="1280.4" cy="636.4" r="3.4"/>
<circle cx="1285.4" cy="636.4" r="3.4"/>
<circle cx="1273.6" cy="641.4" r="3.4"/>
<circle cx="1269.2" cy="644.5" r="3.4"/>
<circle cx="1271.1" cy="643.3" r="3.4"/>
<circle cx="1283.6" cy="642.7" r="3.4"/>
<circle cx="1286.0" cy="643.3" r="3.4"/>
<circle cx="1288.5" cy="642.7" r="3.4"/>
<circle cx="1277.3" cy="649.5" r="3.4"/>
<circle cx="1281.1" cy="651.4" r="3.4"/>
<circle cx="1289.8" cy="606.0" r="3.4"/>
<circle cx="1289.8" cy="623.4" r="3.4"/>
<circle cx="1289.8" cy="631.5" r="3.4"/>
<circle cx="1289.5" cy="651.4" r="3.4"/>
<circle cx="1297.2" cy="612.2" r="3.4"/>
<circle cx="1297.9" cy="622.1" r="3.4"/>
<circle cx="1299.1" cy="625.2" r="3.4"/>
<circle cx="1298.5" cy="634.0" r="3.4"/>
<circle cx="1299.7" cy="636.4" r="3.4"/>
<circle cx="1303.5" cy="603.5" r="3.4"/>
<circle cx="1305.3" cy="606.6" r="3.4"/>
<circle cx="1304.4" cy="610.9" r="3.4"/>
<circle cx="1306.0" cy="616.5" r="3.4"/>
<circle cx="1306.6" cy="623.4" r="3.4"/>
<circle cx="1304.7" cy="630.2" r="3.4"/>
<circle cx="1302.9" cy="638.3" r="3.4"/>
<circle cx="1304.1" cy="640.8" r="3.4"/>
<circle cx="1300.4" cy="643.9" r="3.4"/>
<circle cx="1301.6" cy="646.4" r="3.4"/>
<circle cx="1308.5" cy="648.9" r="3.4"/>
<circle cx="1310.9" cy="650.8" r="3.4"/>
<circle cx="1312.2" cy="632.7" r="3.4"/>
<circle cx="1314.1" cy="637.1" r="3.4"/>
<circle cx="1316.5" cy="640.8" r="3.4"/>
<circle cx="1316.5" cy="608.4" r="3.4"/>
<circle cx="1318.4" cy="610.9" r="3.4"/>
<circle cx="1322.8" cy="607.2" r="3.4"/>
<circle cx="1319.7" cy="613.4" r="3.4"/>
<circle cx="1314.7" cy="615.9" r="3.4"/>
<circle cx="1316.5" cy="617.8" r="3.4"/>
<circle cx="1317.8" cy="620.3" r="3.4"/>
<circle cx="1314.7" cy="624.6" r="3.4"/>
<circle cx="1320.3" cy="630.8" r="3.4"/>
<circle cx="1321.5" cy="634.0" r="3.4"/>
<circle cx="1324.6" cy="645.2" r="3.4"/>
<circle cx="1327.1" cy="647.0" r="3.4"/>
<circle cx="1318.4" cy="651.4" r="3.4"/>
<circle cx="1333.3" cy="602.5" r="3.4"/>
<circle cx="1338.6" cy="602.5" r="3.4"/>
<circle cx="1329.6" cy="613.1" r="3.4"/>
<circle cx="1330.2" cy="616.5" r="3.4"/>
<circle cx="1343.3" cy="610.3" r="3.4"/>
<circle cx="1329.6" cy="625.2" r="3.4"/>
<circle cx="1334.0" cy="624.3" r="3.4"/>
<circle cx="1339.6" cy="623.4" r="3.4"/>
<circle cx="1344.5" cy="625.2" r="3.4"/>
<circle cx="1337.4" cy="634.0" r="3.4"/>
<circle cx="1344.5" cy="635.2" r="3.4"/>
<circle cx="1332.1" cy="637.1" r="3.4"/>
<circle cx="1333.3" cy="640.2" r="3.4"/>
<circle cx="1334.6" cy="642.7" r="3.4"/>
<circle cx="1339.6" cy="643.3" r="3.4"/>
<circle cx="1344.5" cy="647.0" r="3.4"/>
<circle cx="1245.6" cy="655.5" r="3.4"/>
<circle cx="1255.6" cy="654.5" r="3.4"/>
<circle cx="1240.6" cy="659.2" r="3.4"/>
<circle cx="1246.8" cy="662.0" r="3.4"/>
<circle cx="1252.4" cy="661.4" r="3.4"/>
<circle cx="1254.3" cy="662.6" r="3.4"/>
<circle cx="1260.5" cy="661.4" r="3.4"/>
<circle cx="1263.6" cy="662.3" r="3.4"/>
<circle cx="1266.1" cy="661.4" r="3.4"/>
<circle cx="1241.9" cy="667.3" r="3.4"/>
<circle cx="1249.3" cy="668.5" r="3.4"/>
<circle cx="1251.2" cy="669.8" r="3.4"/>
<circle cx="1252.4" cy="667.9" r="3.4"/>
<circle cx="1245.6" cy="674.1" r="3.4"/>
<circle cx="1248.1" cy="675.4" r="3.4"/>
<circle cx="1250.0" cy="677.2" r="3.4"/>
<circle cx="1258.7" cy="667.3" r="3.4"/>
<circle cx="1261.5" cy="674.4" r="3.4"/>
<circle cx="1266.8" cy="668.2" r="3.4"/>
<circle cx="1270.5" cy="673.5" r="3.4"/>
<circle cx="1272.4" cy="663.9" r="3.4"/>
<circle cx="1274.8" cy="663.2" r="3.4"/>
<circle cx="1278.0" cy="662.3" r="3.4"/>
<circle cx="1281.1" cy="661.4" r="3.4"/>
<circle cx="1283.6" cy="656.1" r="3.4"/>
<circle cx="1286.0" cy="658.0" r="3.4"/>
<circle cx="1287.9" cy="659.2" r="3.4"/>
<circle cx="1280.4" cy="669.2" r="3.4"/>
<circle cx="1279.8" cy="672.9" r="3.4"/>
<circle cx="1286.0" cy="672.6" r="3.4"/>
<circle cx="1289.2" cy="666.0" r="3.4"/>
<circle cx="1274.8" cy="678.5" r="3.4"/>
<circle cx="1277.3" cy="677.2" r="3.4"/>
<circle cx="1272.4" cy="681.6" r="3.4"/>
<circle cx="1276.1" cy="681.6" r="3.4"/>
<circle cx="1278.6" cy="680.4" r="3.4"/>
<circle cx="1283.6" cy="681.6" r="3.4"/>
<circle cx="1289.2" cy="680.4" r="3.4"/>
<circle cx="1260.5" cy="685.3" r="3.4"/>
<circle cx="1266.1" cy="685.3" r="3.4"/>
<circle cx="1276.1" cy="687.8" r="3.4"/>
<circle cx="1279.8" cy="690.3" r="3.4"/>
<circle cx="1274.8" cy="693.4" r="3.4"/>
<circle cx="1289.8" cy="687.8" r="3.4"/>
<circle cx="1248.1" cy="687.8" r="3.4"/>
<circle cx="1246.2" cy="690.3" r="3.4"/>
<circle cx="1250.6" cy="689.7" r="3.4"/>
<circle cx="1254.9" cy="690.9" r="3.4"/>
<circle cx="1243.7" cy="692.8" r="3.4"/>
<circle cx="1241.9" cy="696.5" r="3.4"/>
<circle cx="1252.4" cy="695.3" r="3.4"/>
<circle cx="1253.1" cy="698.4" r="3.4"/>
<circle cx="1246.2" cy="700.9" r="3.4"/>
<circle cx="1260.5" cy="695.9" r="3.4"/>
<circle cx="1263.6" cy="697.2" r="3.4"/>
<circle cx="1266.8" cy="695.9" r="3.4"/>
<circle cx="1269.2" cy="698.4" r="3.4"/>
<circle cx="1273.6" cy="699.6" r="3.4"/>
<circle cx="1266.1" cy="699.6" r="3.4"/>
<circle cx="1283.6" cy="699.0" r="3.4"/>
<circle cx="1289.2" cy="697.8" r="3.4"/>
<circle cx="1297.2" cy="654.8" r="3.4"/>
<circle cx="1297.9" cy="659.8" r="3.4"/>
<circle cx="1302.9" cy="657.3" r="3.4"/>
<circle cx="1316.5" cy="657.3" r="3.4"/>
<circle cx="1320.9" cy="656.1" r="3.4"/>
<circle cx="1322.1" cy="660.4" r="3.4"/>
<circle cx="1326.5" cy="653.6" r="3.4"/>
<circle cx="1335.2" cy="655.5" r="3.4"/>
<circle cx="1340.8" cy="654.8" r="3.4"/>
<circle cx="1342.1" cy="658.6" r="3.4"/>
<circle cx="1316.5" cy="665.4" r="3.4"/>
<circle cx="1320.3" cy="669.2" r="3.4"/>
<circle cx="1299.7" cy="668.5" r="3.4"/>
<circle cx="1301.6" cy="669.8" r="3.4"/>
<circle cx="1307.8" cy="669.5" r="3.4"/>
<circle cx="1299.7" cy="673.5" r="3.4"/>
<circle cx="1306.0" cy="678.5" r="3.4"/>
<circle cx="1304.7" cy="677.9" r="3.4"/>
<circle cx="1314.7" cy="673.2" r="3.4"/>
<circle cx="1322.8" cy="672.9" r="3.4"/>
<circle cx="1325.3" cy="674.8" r="3.4"/>
<circle cx="1324.6" cy="677.9" r="3.4"/>
<circle cx="1332.7" cy="669.8" r="3.4"/>
<circle cx="1333.3" cy="672.9" r="3.4"/>
<circle cx="1335.8" cy="674.8" r="3.4"/>
<circle cx="1337.1" cy="676.6" r="3.4"/>
<circle cx="1344.5" cy="674.1" r="3.4"/>
<circle cx="1297.2" cy="684.1" r="3.4"/>
<circle cx="1299.1" cy="685.3" r="3.4"/>
<circle cx="1297.9" cy="694.0" r="3.4"/>
<circle cx="1306.0" cy="689.7" r="3.4"/>
<circle cx="1307.8" cy="694.7" r="3.4"/>
<circle cx="1310.3" cy="697.8" r="3.4"/>
<circle cx="1312.8" cy="687.8" r="3.4"/>
<circle cx="1315.3" cy="685.3" r="3.4"/>
<circle cx="1317.2" cy="687.2" r="3.4"/>
<circle cx="1319.7" cy="689.1" r="3.4"/>
<circle cx="1314.7" cy="694.0" r="3.4"/>
<circle cx="1320.3" cy="699.0" r="3.4"/>
<circle cx="1322.8" cy="694.0" r="3.4"/>
<circle cx="1329.6" cy="687.8" r="3.4"/>
<circle cx="1329.6" cy="691.6" r="3.4"/>
<circle cx="1328.4" cy="695.3" r="3.4"/>
<circle cx="1329.6" cy="699.0" r="3.4"/>
<circle cx="1337.7" cy="685.3" r="3.4"/>
<circle cx="1342.1" cy="683.5" r="3.4"/>
<circle cx="1344.5" cy="687.8" r="3.4"/>
<circle cx="1338.9" cy="697.2" r="3.4"/>
<circle cx="1339.6" cy="699.6" r="3.4"/>
<circle cx="1343.3" cy="692.8" r="3.4"/>
<circle cx="1307.2" cy="702.8" r="3.4"/>
<circle cx="1337.1" cy="702.8" r="3.4"/>
<circle cx="1349.4" cy="605.3" r="3.4"/>
<circle cx="1359.3" cy="606.0" r="3.4"/>
<circle cx="1362.4" cy="605.0" r="3.4"/>
<circle cx="1360.6" cy="608.4" r="3.4"/>
<circle cx="1359.6" cy="611.6" r="3.4"/>
<circle cx="1357.1" cy="615.9" r="3.4"/>
<circle cx="1373.6" cy="606.3" r="3.4"/>
<circle cx="1369.3" cy="614.0" r="3.4"/>
<circle cx="1376.4" cy="613.1" r="3.4"/>
<circle cx="1365.5" cy="619.0" r="3.4"/>
<circle cx="1363.0" cy="620.9" r="3.4"/>
<circle cx="1361.2" cy="623.4" r="3.4"/>
<circle cx="1366.2" cy="625.9" r="3.4"/>
<circle cx="1357.8" cy="628.4" r="3.4"/>
<circle cx="1360.6" cy="630.8" r="3.4"/>
<circle cx="1363.7" cy="632.7" r="3.4"/>
<circle cx="1369.3" cy="635.8" r="3.4"/>
<circle cx="1375.5" cy="631.5" r="3.4"/>
<circle cx="1376.1" cy="622.1" r="3.4"/>
<circle cx="1378.9" cy="623.4" r="3.4"/>
<circle cx="1383.3" cy="606.3" r="3.4"/>
<circle cx="1385.4" cy="608.4" r="3.4"/>
<circle cx="1390.4" cy="606.3" r="3.4"/>
<circle cx="1391.4" cy="608.4" r="3.4"/>
<circle cx="1397.6" cy="611.2" r="3.4"/>
<circle cx="1387.3" cy="616.5" r="3.4"/>
<circle cx="1387.3" cy="631.5" r="3.4"/>
<circle cx="1394.2" cy="625.2" r="3.4"/>
<circle cx="1398.5" cy="623.4" r="3.4"/>
<circle cx="1405.4" cy="606.3" r="3.4"/>
<circle cx="1407.2" cy="615.3" r="3.4"/>
<circle cx="1409.1" cy="617.5" r="3.4"/>
<circle cx="1410.3" cy="616.5" r="3.4"/>
<circle cx="1416.6" cy="617.5" r="3.4"/>
<circle cx="1415.3" cy="611.2" r="3.4"/>
<circle cx="1417.5" cy="606.0" r="3.4"/>
<circle cx="1414.4" cy="627.1" r="3.4"/>
<circle cx="1408.5" cy="630.2" r="3.4"/>
<circle cx="1411.0" cy="632.1" r="3.4"/>
<circle cx="1410.3" cy="638.3" r="3.4"/>
<circle cx="1413.5" cy="637.1" r="3.4"/>
<circle cx="1385.4" cy="640.2" r="3.4"/>
<circle cx="1381.4" cy="645.5" r="3.4"/>
<circle cx="1392.3" cy="642.0" r="3.4"/>
<circle cx="1390.4" cy="644.5" r="3.4"/>
<circle cx="1347.5" cy="632.7" r="3.4"/>
<circle cx="1350.0" cy="634.6" r="3.4"/>
<circle cx="1351.8" cy="636.4" r="3.4"/>
<circle cx="1348.7" cy="637.1" r="3.4"/>
<circle cx="1353.7" cy="639.6" r="3.4"/>
<circle cx="1346.2" cy="640.8" r="3.4"/>
<circle cx="1357.4" cy="643.3" r="3.4"/>
<circle cx="1346.9" cy="645.8" r="3.4"/>
<circle cx="1356.8" cy="646.4" r="3.4"/>
<circle cx="1360.6" cy="644.5" r="3.4"/>
<circle cx="1364.9" cy="642.0" r="3.4"/>
<circle cx="1363.0" cy="647.6" r="3.4"/>
<circle cx="1370.5" cy="644.5" r="3.4"/>
<circle cx="1346.2" cy="650.8" r="3.4"/>
<circle cx="1371.4" cy="651.7" r="3.4"/>
<circle cx="1362.4" cy="651.4" r="3.4"/>
<circle cx="1415.3" cy="645.8" r="3.4"/>
<circle cx="1408.5" cy="650.1" r="3.4"/>
<circle cx="1412.2" cy="648.9" r="3.4"/>
<circle cx="1372.7" cy="654.8" r="3.4"/>
<circle cx="1373.9" cy="657.0" r="3.4"/>
<circle cx="1360.6" cy="656.1" r="3.4"/>
<circle cx="1359.6" cy="658.6" r="3.4"/>
<circle cx="1357.8" cy="661.4" r="3.4"/>
<circle cx="1361.8" cy="663.6" r="3.4"/>
<circle cx="1363.7" cy="666.0" r="3.4"/>
<circle cx="1364.9" cy="668.8" r="3.4"/>
<circle cx="1359.0" cy="670.1" r="3.4"/>
<circle cx="1358.4" cy="672.6" r="3.4"/>
<circle cx="1355.6" cy="676.6" r="3.4"/>
<circle cx="1353.1" cy="681.6" r="3.4"/>
<circle cx="1350.6" cy="683.5" r="3.4"/>
<circle cx="1346.9" cy="684.7" r="3.4"/>
<circle cx="1356.8" cy="687.8" r="3.4"/>
<circle cx="1357.1" cy="689.1" r="3.4"/>
<circle cx="1363.7" cy="691.6" r="3.4"/>
<circle cx="1349.4" cy="699.3" r="3.4"/>
<circle cx="1369.6" cy="697.5" r="3.4"/>
<circle cx="1370.5" cy="672.3" r="3.4"/>
<circle cx="1368.0" cy="677.9" r="3.4"/>
<circle cx="1370.5" cy="681.0" r="3.4"/>
<circle cx="1368.3" cy="685.3" r="3.4"/>
<circle cx="1378.6" cy="665.1" r="3.4"/>
<circle cx="1379.5" cy="670.1" r="3.4"/>
<circle cx="1378.6" cy="674.1" r="3.4"/>
<circle cx="1383.6" cy="677.9" r="3.4"/>
<circle cx="1384.5" cy="680.4" r="3.4"/>
<circle cx="1384.2" cy="686.0" r="3.4"/>
<circle cx="1388.6" cy="686.3" r="3.4"/>
<circle cx="1383.9" cy="690.9" r="3.4"/>
<circle cx="1376.4" cy="690.3" r="3.4"/>
<circle cx="1378.3" cy="694.0" r="3.4"/>
<circle cx="1383.6" cy="699.6" r="3.4"/>
<circle cx="1389.5" cy="660.1" r="3.4"/>
<circle cx="1387.9" cy="661.4" r="3.4"/>
<circle cx="1386.4" cy="665.7" r="3.4"/>
<circle cx="1394.5" cy="671.3" r="3.4"/>
<circle cx="1403.5" cy="670.4" r="3.4"/>
<circle cx="1396.6" cy="677.6" r="3.4"/>
<circle cx="1399.1" cy="678.5" r="3.4"/>
<circle cx="1402.6" cy="679.1" r="3.4"/>
<circle cx="1401.0" cy="682.8" r="3.4"/>
<circle cx="1404.7" cy="685.3" r="3.4"/>
<circle cx="1411.6" cy="684.4" r="3.4"/>
<circle cx="1398.2" cy="688.8" r="3.4"/>
<circle cx="1396.6" cy="692.8" r="3.4"/>
<circle cx="1390.4" cy="695.6" r="3.4"/>
<circle cx="1394.2" cy="695.9" r="3.4"/>
<circle cx="1395.4" cy="696.5" r="3.4"/>
<circle cx="1401.6" cy="695.6" r="3.4"/>
<circle cx="1406.6" cy="658.3" r="3.4"/>
<circle cx="1410.3" cy="664.5" r="3.4"/>
<circle cx="1414.4" cy="671.3" r="3.4"/>
<circle cx="1270.5" cy="684.0" r="3.4"/>
<circle cx="1287.8" cy="670.8" r="3.4"/>
<circle cx="1291.3" cy="649.2" r="3.4"/>
<circle cx="1257.2" cy="645.8" r="3.4"/>
<circle cx="1250.7" cy="641.0" r="3.4"/>
<circle cx="1271.5" cy="696.3" r="3.4"/>
<circle cx="1187.0" cy="665.1" r="3.4"/>
<circle cx="1240.3" cy="665.4" r="3.4"/>
<circle cx="1280.8" cy="636.4" r="3.4"/>
<circle cx="1229.5" cy="686.8" r="3.4"/>
<circle cx="1203.8" cy="639.7" r="3.4"/>
<circle cx="1271.6" cy="622.0" r="3.4"/>
<circle cx="1287.8" cy="663.9" r="3.4"/>
<circle cx="1286.5" cy="661.9" r="3.4"/>
<circle cx="1214.8" cy="635.3" r="3.4"/>
<circle cx="1279.1" cy="675.6" r="3.4"/>
<circle cx="1253.6" cy="625.6" r="3.4"/>
<circle cx="1233.8" cy="686.2" r="3.4"/>
<circle cx="1271.3" cy="628.9" r="3.4"/>
<circle cx="1235.0" cy="616.6" r="3.4"/>
<circle cx="1232.1" cy="631.1" r="3.4"/>
<circle cx="1228.3" cy="690.9" r="3.4"/>
<circle cx="1166.4" cy="623.0" r="3.4"/>
<circle cx="1261.6" cy="630.5" r="3.4"/>
<circle cx="1291.2" cy="651.6" r="3.4"/>
<circle cx="1181.8" cy="690.8" r="3.4"/>
<circle cx="1168.2" cy="640.0" r="3.4"/>
<circle cx="1245.3" cy="649.9" r="3.4"/>
<circle cx="1270.7" cy="625.2" r="3.4"/>
<circle cx="1242.1" cy="624.2" r="3.4"/>
<circle cx="1270.2" cy="631.5" r="3.4"/>
<circle cx="1187.6" cy="656.3" r="3.4"/>
<circle cx="1243.2" cy="639.6" r="3.4"/>
<circle cx="1246.9" cy="654.6" r="3.4"/>
<circle cx="1283.3" cy="680.0" r="3.4"/>
<circle cx="1194.2" cy="681.6" r="3.4"/>
<circle cx="1198.5" cy="661.5" r="3.4"/>
<circle cx="1248.0" cy="654.6" r="3.4"/>
<circle cx="1269.5" cy="613.9" r="3.4"/>
<circle cx="1252.4" cy="660.2" r="3.4"/>
<circle cx="1237.5" cy="627.5" r="3.4"/>
<circle cx="1249.3" cy="694.5" r="3.4"/>
<circle cx="1162.1" cy="689.1" r="3.4"/>
<circle cx="1193.2" cy="661.1" r="3.4"/>
<circle cx="1241.5" cy="617.6" r="3.4"/>
<circle cx="1167.9" cy="616.1" r="3.4"/>
<circle cx="1256.6" cy="656.6" r="3.4"/>
<circle cx="1290.6" cy="652.7" r="3.4"/>
<circle cx="1264.9" cy="620.6" r="3.4"/>
<circle cx="1249.8" cy="688.8" r="3.4"/>
<circle cx="1252.6" cy="614.9" r="3.4"/>
<circle cx="1261.0" cy="603.6" r="3.4"/>
<circle cx="1242.8" cy="624.4" r="3.4"/>
<circle cx="1254.0" cy="666.8" r="3.4"/>
<circle cx="1250.8" cy="674.8" r="3.4"/>
<circle cx="1250.2" cy="621.0" r="3.4"/>
<circle cx="1232.9" cy="694.5" r="3.4"/>
<circle cx="1395.8" cy="688.5" r="3.4"/>
<circle cx="1356.6" cy="669.1" r="3.4"/>
<circle cx="1360.0" cy="644.4" r="3.4"/>
<circle cx="1323.6" cy="698.1" r="3.4"/>
<circle cx="1314.9" cy="665.7" r="3.4"/>
<circle cx="1329.7" cy="692.1" r="3.4"/>
<circle cx="1411.8" cy="637.6" r="3.4"/>
<circle cx="1363.7" cy="663.8" r="3.4"/>
<circle cx="1343.7" cy="645.0" r="3.4"/>
<circle cx="1296.1" cy="683.0" r="3.4"/>
<circle cx="1365.0" cy="649.5" r="3.4"/>
<circle cx="1323.0" cy="663.0" r="3.4"/>
<circle cx="1326.6" cy="697.0" r="3.4"/>
<circle cx="1367.2" cy="627.5" r="3.4"/>
<circle cx="1345.7" cy="630.6" r="3.4"/>
<circle cx="1367.9" cy="670.1" r="3.4"/>
<circle cx="1297.7" cy="656.6" r="3.4"/>
<circle cx="1375.5" cy="692.4" r="3.4"/>
<circle cx="1387.1" cy="669.3" r="3.4"/>
<circle cx="1385.6" cy="687.5" r="3.4"/>
<circle cx="1363.0" cy="649.2" r="3.4"/>
<circle cx="1344.0" cy="686.2" r="3.4"/>
<circle cx="1312.2" cy="617.7" r="3.4"/>
<circle cx="1299.4" cy="636.9" r="3.4"/>
<circle cx="1379.9" cy="693.7" r="3.4"/>
<circle cx="1376.6" cy="610.4" r="3.4"/>
<circle cx="1346.8" cy="642.2" r="3.4"/>
<circle cx="1321.1" cy="611.6" r="3.4"/>
<circle cx="1361.5" cy="620.2" r="3.4"/>
<circle cx="1345.5" cy="628.4" r="3.4"/>
<circle cx="1396.8" cy="695.8" r="3.4"/>
<circle cx="1306.6" cy="640.0" r="3.4"/>
<circle cx="1359.4" cy="658.4" r="3.4"/>
<circle cx="1360.4" cy="622.1" r="3.4"/>
<circle cx="1298.1" cy="622.1" r="3.4"/>
<circle cx="1330.9" cy="625.2" r="3.4"/>
<circle cx="1315.3" cy="695.7" r="3.4"/>
<circle cx="1366.5" cy="621.2" r="3.4"/>
<circle cx="1358.1" cy="666.9" r="3.4"/>
<circle cx="882.5" cy="623.3" r="3.4"/>
<circle cx="999.4" cy="658.3" r="3.4"/>
<circle cx="1012.5" cy="672.4" r="3.4"/>
<circle cx="1036.4" cy="681.4" r="3.4"/>
<circle cx="1068.1" cy="638.3" r="3.4"/>
<circle cx="1061.4" cy="698.3" r="3.4"/>
<circle cx="1093.3" cy="602.5" r="3.4"/>
<circle cx="1109.3" cy="608.3" r="3.4"/>
<circle cx="1126.2" cy="610.4" r="3.4"/>
<circle cx="1120.4" cy="615.4" r="3.4"/>
<circle cx="1091.4" cy="623.3" r="3.4"/>
<circle cx="1106.5" cy="621.4" r="3.4"/>
<circle cx="1116.2" cy="624.0" r="3.4"/>
<circle cx="1122.4" cy="624.3" r="3.4"/>
<circle cx="1115.4" cy="629.6" r="3.4"/>
<circle cx="1125.4" cy="646.2" r="3.4"/>
<circle cx="1119.4" cy="652.5" r="3.4"/>
<circle cx="1104.4" cy="666.4" r="3.4"/>
<circle cx="1083.5" cy="691.4" r="3.4"/>
<circle cx="1091.4" cy="688.3" r="3.4"/>
<circle cx="1103.3" cy="689.3" r="3.4"/>
<circle cx="1104.0" cy="690.3" r="3.4"/>
<circle cx="1115.4" cy="692.4" r="3.4"/>
<circle cx="1102.5" cy="699.3" r="3.4"/>
<circle cx="1116.5" cy="700.4" r="3.4"/>
<circle cx="1071.4" cy="700.4" r="3.4"/>
<circle cx="1130.4" cy="687.2" r="3.4"/>
<circle cx="1132.2" cy="689.3" r="3.4"/>
<circle cx="1128.3" cy="669.4" r="3.4"/>
<circle cx="1132.5" cy="670.3" r="3.4"/>
<circle cx="1134.3" cy="662.2" r="3.4"/>
<circle cx="1131.8" cy="676.4" r="3.4"/>
<circle cx="1135.3" cy="678.3" r="3.4"/>
<circle cx="1426.2" cy="612.2" r="3.4"/>
<circle cx="1431.1" cy="612.2" r="3.4"/>
<circle cx="1432.8" cy="612.9" r="3.4"/>
<circle cx="1433.5" cy="619.4" r="3.4"/>
<circle cx="1443.3" cy="604.4" r="3.4"/>
<circle cx="1455.4" cy="604.4" r="3.4"/>
<circle cx="1447.4" cy="610.4" r="3.4"/>
<circle cx="1450.3" cy="617.4" r="3.4"/>
<circle cx="1432.5" cy="627.2" r="3.4"/>
<circle cx="1444.3" cy="627.2" r="3.4"/>
<circle cx="1449.2" cy="627.2" r="3.4"/>
<circle cx="1451.5" cy="628.6" r="3.4"/>
<circle cx="1429.4" cy="631.7" r="3.4"/>
<circle cx="1426.2" cy="636.2" r="3.4"/>
<circle cx="1429.7" cy="637.9" r="3.4"/>
<circle cx="1433.5" cy="637.2" r="3.4"/>
<circle cx="1430.4" cy="641.7" r="3.4"/>
<circle cx="1422.5" cy="646.2" r="3.4"/>
<circle cx="1448.5" cy="638.6" r="3.4"/>
<circle cx="1454.4" cy="635.1" r="3.4"/>
<circle cx="1453.3" cy="637.2" r="3.4"/>
<circle cx="1454.4" cy="642.5" r="3.4"/>
<circle cx="1436.4" cy="651.1" r="3.4"/>
<circle cx="1441.4" cy="651.1" r="3.4"/>
<circle cx="1428.6" cy="654.6" r="3.4"/>
<circle cx="1424.9" cy="656.7" r="3.4"/>
<circle cx="1425.6" cy="658.1" r="3.4"/>
<circle cx="1422.8" cy="661.5" r="3.4"/>
<circle cx="1434.4" cy="660.4" r="3.4"/>
<circle cx="1425.6" cy="667.4" r="3.4"/>
<circle cx="1436.4" cy="669.4" r="3.4"/>
<circle cx="1435.6" cy="674.4" r="3.4"/>
<circle cx="1430.4" cy="676.1" r="3.4"/>
<circle cx="1427.6" cy="678.3" r="3.4"/>
<circle cx="1427.6" cy="689.4" r="3.4"/>
<circle cx="1421.1" cy="700.4" r="3.4"/>
<circle cx="1454.4" cy="654.2" r="3.4"/>
<circle cx="1451.2" cy="658.3" r="3.4"/>
<circle cx="1454.3" cy="660.6" r="3.4"/>
<circle cx="1462.4" cy="618.5" r="3.4"/>
<circle cx="1464.4" cy="619.2" r="3.4"/>
<circle cx="1466.5" cy="616.1" r="3.4"/>
<circle cx="1466.5" cy="636.2" r="3.4"/>
<circle cx="1472.4" cy="630.6" r="3.4"/>
<circle cx="1473.9" cy="632.4" r="3.4"/>
<circle cx="1479.4" cy="610.4" r="3.4"/>
<circle cx="1479.4" cy="621.2" r="3.4"/>
<circle cx="1482.5" cy="624.4" r="3.4"/>
<circle cx="1485.3" cy="617.4" r="3.4"/>
<circle cx="1482.5" cy="643.5" r="3.4"/>
<circle cx="1473.5" cy="652.5" r="3.4"/>
<circle cx="1487.4" cy="651.4" r="3.4"/>
<circle cx="1489.4" cy="633.5" r="3.4"/>
<circle cx="1490.4" cy="641.4" r="3.4"/>
<circle cx="1492.2" cy="643.5" r="3.4"/>
<circle cx="1495.7" cy="642.5" r="3.4"/>
<circle cx="1499.4" cy="632.4" r="3.4"/>
<circle cx="1498.5" cy="613.3" r="3.4"/>
<circle cx="1498.5" cy="649.4" r="3.4"/>
<circle cx="1471.4" cy="659.4" r="3.4"/>
<circle cx="1474.4" cy="662.5" r="3.4"/>
<circle cx="1469.3" cy="665.0" r="3.4"/>
<circle cx="1463.5" cy="669.4" r="3.4"/>
<circle cx="1468.6" cy="671.5" r="3.4"/>
<circle cx="1476.5" cy="672.6" r="3.4"/>
<circle cx="1464.4" cy="677.5" r="3.4"/>
<circle cx="1451.5" cy="681.4" r="3.4"/>
<circle cx="1454.4" cy="686.4" r="3.4"/>
<circle cx="1459.3" cy="685.4" r="3.4"/>
<circle cx="1461.4" cy="692.4" r="3.4"/>
<circle cx="1460.3" cy="696.7" r="3.4"/>
<circle cx="1478.3" cy="683.5" r="3.4"/>
<circle cx="1483.5" cy="680.3" r="3.4"/>
<circle cx="1487.6" cy="684.4" r="3.4"/>
<circle cx="1507.2" cy="606.4" r="3.4"/>
<circle cx="1509.3" cy="609.4" r="3.4"/>
<circle cx="1513.5" cy="609.2" r="3.4"/>
<circle cx="1515.8" cy="613.3" r="3.4"/>
<circle cx="1513.5" cy="618.9" r="3.4"/>
<circle cx="1504.3" cy="638.3" r="3.4"/>
<circle cx="1507.5" cy="637.2" r="3.4"/>
<circle cx="1508.5" cy="651.4" r="3.4"/>
<circle cx="1505.4" cy="659.2" r="3.4"/>
<circle cx="1506.4" cy="665.4" r="3.4"/>
<circle cx="1499.4" cy="671.2" r="3.4"/>
<circle cx="1504.3" cy="673.3" r="3.4"/>
<circle cx="1502.4" cy="677.5" r="3.4"/>
<circle cx="1518.5" cy="639.3" r="3.4"/>
<circle cx="1518.5" cy="650.4" r="3.4"/>
<circle cx="1524.4" cy="658.3" r="3.4"/>
<circle cx="1520.7" cy="677.5" r="3.4"/>
<circle cx="1521.5" cy="678.3" r="3.4"/>
<circle cx="1516.4" cy="685.8" r="3.4"/>
<circle cx="1516.4" cy="690.4" r="3.4"/>
<circle cx="1525.4" cy="687.4" r="3.4"/>
<circle cx="1532.5" cy="686.4" r="3.4"/>
<circle cx="1528.3" cy="608.3" r="3.4"/>
<circle cx="1536.5" cy="614.2" r="3.4"/>
<circle cx="1537.4" cy="614.9" r="3.4"/>
<circle cx="1526.5" cy="622.4" r="3.4"/>
<circle cx="1533.5" cy="627.4" r="3.4"/>
<circle cx="1532.5" cy="636.5" r="3.4"/>
<circle cx="1533.3" cy="638.1" r="3.4"/>
<circle cx="1526.5" cy="643.5" r="3.4"/>
<circle cx="1533.5" cy="664.4" r="3.4"/>
<circle cx="1545.4" cy="626.4" r="3.4"/>
<circle cx="1548.5" cy="635.4" r="3.4"/>
<circle cx="1541.5" cy="651.1" r="3.4"/>
<circle cx="1544.3" cy="650.1" r="3.4"/>
<circle cx="1550.3" cy="656.4" r="3.4"/>
<circle cx="1543.3" cy="664.4" r="3.4"/>
<circle cx="1554.3" cy="643.5" r="3.4"/>
<circle cx="1557.5" cy="625.4" r="3.4"/>
<circle cx="1559.4" cy="618.3" r="3.4"/>
<circle cx="1564.4" cy="633.5" r="3.4"/>
<circle cx="1563.5" cy="648.3" r="3.4"/>
<circle cx="1561.4" cy="663.3" r="3.4"/>
<circle cx="1573.5" cy="642.5" r="3.4"/>
<circle cx="1573.5" cy="654.6" r="3.4"/>
<circle cx="1553.3" cy="686.8" r="3.4"/>
<circle cx="1551.2" cy="690.7" r="3.4"/>
<circle cx="1548.5" cy="695.6" r="3.4"/>
<circle cx="1568.3" cy="691.4" r="3.4"/>
<circle cx="1577.4" cy="688.3" r="3.4"/>
<circle cx="1585.3" cy="626.5" r="3.4"/>
<circle cx="1598.5" cy="619.4" r="3.4"/>
<circle cx="1606.4" cy="634.4" r="3.4"/>
<circle cx="1603.3" cy="657.4" r="3.4"/>
<circle cx="1597.4" cy="669.4" r="3.4"/>
<circle cx="1622.4" cy="656.4" r="3.4"/>
<circle cx="1600.4" cy="683.3" r="3.4"/>
<circle cx="1605.4" cy="689.4" r="3.4"/>
<circle cx="1602.4" cy="699.4" r="3.4"/>
<circle cx="1607.5" cy="699.4" r="3.4"/>
<circle cx="1618.3" cy="681.2" r="3.4"/>
<circle cx="1616.2" cy="684.9" r="3.4"/>
<circle cx="1642.4" cy="656.4" r="3.4"/>
<circle cx="1638.5" cy="664.2" r="3.4"/>
<circle cx="1637.6" cy="669.6" r="3.4"/>
<circle cx="1657.3" cy="657.3" r="3.4"/>
<circle cx="1669.4" cy="658.4" r="3.4"/>
<circle cx="1667.4" cy="623.5" r="3.4"/>
<circle cx="1697.5" cy="620.4" r="3.4"/>
<circle cx="1702.5" cy="624.4" r="3.4"/>
<circle cx="1702.3" cy="664.4" r="3.4"/>
<circle cx="1708.3" cy="697.5" r="3.4"/>
<circle cx="1735.5" cy="616.6" r="3.4"/>
<circle cx="1751.4" cy="687.5" r="3.4"/>
<circle cx="1776.5" cy="657.5" r="3.4"/>
<circle cx="1820.3" cy="622.6" r="3.4"/>
<circle cx="1989.5" cy="657.5" r="3.4"/>
</g>
<g stroke="#2a2d3a" stroke-opacity="0.45" stroke-width="1.04" stroke-dasharray="3.85 1.67" fill="none">
<path d="M132.5 800.0V107.0"/>
<path d="M223.5 800.0V107.0"/>
<path d="M277.5 800.0V107.0"/>
<path d="M315.5 800.0V107.0"/>
<path d="M344.5 800.0V107.0"/>
<path d="M368.5 800.0V107.0"/>
<path d="M388.5 800.0V107.0"/>
<path d="M406.5 800.0V107.0"/>
<path d="M421.5 800.0V107.0"/>
<path d="M435.5 800.0V107.0"/>
<path d="M526.5 800.0V107.0"/>
<path d="M579.5 800.0V107.0"/>
<path d="M617.5 800.0V107.0"/>
<path d="M647.5 800.0V107.0"/>
<path d="M670.5 800.0V107.0"/>
<path d="M691.5 800.0V107.0"/>
<path d="M708.5 800.0V107.0"/>
<path d="M724.5 800.0V107.0"/>
<path d="M738.5 800.0V107.0"/>
<path d="M829.5 800.0V107.0"/>
<path d="M882.5 800.0V107.0"/>
<path d="M920.5 800.0V107.0"/>
<path d="M949.5 800.0V107.0"/>
<path d="M973.5 800.0V107.0"/>
<path d="M993.5 800.0V107.0"/>
<path d="M1011.5 800.0V107.0"/>
<path d="M1026.5 800.0V107.0"/>
<path d="M1040.5 800.0V107.0"/>
<path d="M1131.5 800.0V107.0"/>
<path d="M1185.5 800.0V107.0"/>
<path d="M1222.5 800.0V107.0"/>
<path d="M1252.5 800.0V107.0"/>
<path d="M1276.5 800.0V107.0"/>
<path d="M1296.5 800.0V107.0"/>
<path d="M1314.5 800.0V107.0"/>
<path d="M1329.5 800.0V107.0"/>
<path d="M1343.5 800.0V107.0"/>
<path d="M1434.5 800.0V107.0"/>
<path d="M1487.5 800.0V107.0"/>
<path d="M1525.5 800.0V107.0"/>
<path d="M1554.5 800.0V107.0"/>
<path d="M1578.5 800.0V107.0"/>
<path d="M1599.5 800.0V107.0"/>
<path d="M1616.5 800.0V107.0"/>
<path d="M1632.5 800.0V107.0"/>
<path d="M1645.5 800.0V107.0"/>
<path d="M1737.5 800.0V107.0"/>
<path d="M1790.5 800.0V107.0"/>
<path d="M1828.5 800.0V107.0"/>
<path d="M1857.5 800.0V107.0"/>
<path d="M1881.5 800.0V107.0"/>
<path d="M1901.5 800.0V107.0"/>
<path d="M1919.5 800.0V107.0"/>
<path d="M1934.5 800.0V107.0"/>
<path d="M1948.5 800.0V107.0"/>
<path d="M2039.5 800.0V107.0"/>
</g>
<g stroke="#868b9a" fill="none">
<path d="M132 800.0v7.4" stroke-width="1.8"/>
<path d="M223.5 800.0v4.9" stroke-width="1.1"/>
<path d="M277.5 800.0v4.9" stroke-width="1.1"/>
<path d="M315.5 800.0v4.9" stroke-width="1.1"/>
<path d="M344.5 800.0v4.9" stroke-width="1.1"/>
<path d="M368.5 800.0v4.9" stroke-width="1.1"/>
<path d="M388.5 800.0v4.9" stroke-width="1.1"/>
<path d="M406.5 800.0v4.9" stroke-width="1.1"/>
<path d="M421.5 800.0v4.9" stroke-width="1.1"/>
<path d="M435 800.0v7.4" stroke-width="1.8"/>
<path d="M526.5 800.0v4.9" stroke-width="1.1"/>
<path d="M579.5 800.0v4.9" stroke-width="1.1"/>
<path d="M617.5 800.0v4.9" stroke-width="1.1"/>
<path d="M647.5 800.0v4.9" stroke-width="1.1"/>
<path d="M670.5 800.0v4.9" stroke-width="1.1"/>
<path d="M691.5 800.0v4.9" stroke-width="1.1"/>
<path d="M708.5 800.0v4.9" stroke-width="1.1"/>
<path d="M724.5 800.0v4.9" stroke-width="1.1"/>
<path d="M738 800.0v7.4" stroke-width="1.8"/>
<path d="M829.5 800.0v4.9" stroke-width="1.1"/>
<path d="M882.5 800.0v4.9" stroke-width="1.1"/>
<path d="M920.5 800.0v4.9" stroke-width="1.1"/>
<path d="M949.5 800.0v4.9" stroke-width="1.1"/>
<path d="M973.5 800.0v4.9" stroke-width="1.1"/>
<path d="M993.5 800.0v4.9" stroke-width="1.1"/>
<path d="M1011.5 800.0v4.9" stroke-width="1.1"/>
<path d="M1026.5 800.0v4.9" stroke-width="1.1"/>
<path d="M1040 800.0v7.4" stroke-width="1.8"/>
<path d="M1131.5 800.0v4.9" stroke-width="1.1"/>
<path d="M1185.5 800.0v4.9" stroke-width="1.1"/>
<path d="M1222.5 800.0v4.9" stroke-width="1.1"/>
<path d="M1252.5 800.0v4.9" stroke-width="1.1"/>
<path d="M1276.5 800.0v4.9" stroke-width="1.1"/>
<path d="M1296.5 800.0v4.9" stroke-width="1.1"/>
<path d="M1314.5 800.0v4.9" stroke-width="1.1"/>
<path d="M1329.5 800.0v4.9" stroke-width="1.1"/>
<path d="M1343 800.0v7.4" stroke-width="1.8"/>
<path d="M1434.5 800.0v4.9" stroke-width="1.1"/>
<path d="M1487.5 800.0v4.9" stroke-width="1.1"/>
<path d="M1525.5 800.0v4.9" stroke-width="1.1"/>
<path d="M1554.5 800.0v4.9" stroke-width="1.1"/>
<path d="M1578.5 800.0v4.9" stroke-width="1.1"/>
<path d="M1599.5 800.0v4.9" stroke-width="1.1"/>
<path d="M1616.5 800.0v4.9" stroke-width="1.1"/>
<path d="M1632.5 800.0v4.9" stroke-width="1.1"/>
<path d="M1645 800.0v7.4" stroke-width="1.8"/>
<path d="M1737.5 800.0v4.9" stroke-width="1.1"/>
<path d="M1790.5 800.0v4.9" stroke-width="1.1"/>
<path d="M1828.5 800.0v4.9" stroke-width="1.1"/>
<path d="M1857.5 800.0v4.9" stroke-width="1.1"/>
<path d="M1881.5 800.0v4.9" stroke-width="1.1"/>
<path d="M1901.5 800.0v4.9" stroke-width="1.1"/>
<path d="M1919.5 800.0v4.9" stroke-width="1.1"/>
<path d="M1934.5 800.0v4.9" stroke-width="1.1"/>
<path d="M1948 800.0v7.4" stroke-width="1.8"/>
<path d="M2039.5 800.0v4.9" stroke-width="1.1"/>
</g>
<g stroke="#e4e6ec" stroke-width="1.8">
<path d="M121.0 256h-7.2"/>
<path d="M121.0 453h-7.2"/>
<path d="M121.0 651h-7.2"/>
</g>
<rect x="121.0" y="107.0" width="1957.0" height="693.0" fill="none" stroke="#272a36" stroke-width="2"/>
<g fill="#797d8b" font-size="20.83px">
<text x="115.19" y="834.3">10<tspan dy="-10.1" dx="-0.6" font-size="14.58px">1</tspan></text>
<text x="417.80" y="834.3">10<tspan dy="-10.1" dx="-0.6" font-size="14.58px">2</tspan></text>
<text x="720.41" y="834.3">10<tspan dy="-10.1" dx="-0.6" font-size="14.58px">3</tspan></text>
<text x="1023.02" y="834.3">10<tspan dy="-10.1" dx="-0.6" font-size="14.58px">4</tspan></text>
<text x="1325.63" y="834.3">10<tspan dy="-10.1" dx="-0.6" font-size="14.58px">5</tspan></text>
<text x="1628.24" y="834.3">10<tspan dy="-10.1" dx="-0.6" font-size="14.58px">6</tspan></text>
<text x="1930.85" y="834.3">10<tspan dy="-10.1" dx="-0.6" font-size="14.58px">7</tspan></text>
</g>
<g fill="#e4e6ec" font-size="25px" text-anchor="end">
<text x="105.8" y="265.1">Village</text>
<text x="105.8" y="462.5">Town</text>
<text x="105.8" y="660.1">City</text>
</g>
<g fill="#e4e6ec" font-size="29.17px" text-anchor="middle">
<text x="1099" y="45.9">OSM place= population distributions — Japan (JP)</text>
<text x="1099" y="77.9">(city / town / village)</text>
</g>
<text x="1099" y="866.5" fill="#797d8b" font-size="25px" text-anchor="middle">Population (log scale)</text>
<text x="2079.3" y="887.7" fill="#676b77" font-size="15.7px" font-style="italic" text-anchor="end">Data as of 2026-04-04 07:53 UTC</text>
<path d="M872.66 197.6V314.8" stroke="#59a14f" stroke-width="5.2" stroke-linecap="round" fill="none"/>
<g fill="#59a14f" font-size="15.5px" font-weight="bold" text-anchor="middle"><text transform="translate(872.66 162.60) scale(1 1.06)" font-size="15.25px">median</text><text transform="translate(872.66 179.90) scale(1 1.06)">2,788</text></g>
<path d="M1054.59 395.0V512.2" stroke="#4e79a7" stroke-width="5.2" stroke-linecap="round" fill="none"/>
<g fill="#4e79a7" font-size="15.5px" font-weight="bold" text-anchor="middle"><text transform="translate(1054.59 360.00) scale(1 1.06)" font-size="15.25px">median</text><text transform="translate(1054.59 377.30) scale(1 1.06)">11,130</text></g>
<path d="M1293.26 592.6V709.8" stroke="#e15759" stroke-width="5.2" stroke-linecap="round" fill="none"/>
<g fill="#e15759" font-size="15.5px" font-weight="bold" text-anchor="middle"><text transform="translate(1293.26 557.60) scale(1 1.06)" font-size="15.25px">median</text><text transform="translate(1293.26 574.90) scale(1 1.06)">68,421</text></g>
<path d="M209.64 260.0V337.5" stroke="#59a14f" stroke-width="1.67" fill="none" opacity="0.9"/>
<g fill="#59a14f" font-size="14.4px" text-anchor="middle"><text x="209.64" y="352.6" font-size="13.6px" textLength="24.9" lengthAdjust="spacingAndGlyphs">葛尾村</text><text transform="translate(209.64 370.50) scale(1 1.06)">(18)</text></g>
<path d="M1217.50 253.0V175.0" stroke="#59a14f" stroke-width="1.67" fill="none" opacity="0.9"/>
<g fill="#59a14f" font-size="14.4px" text-anchor="middle"><text x="1217.50" y="151.2" font-size="13.6px" textLength="24.9" lengthAdjust="spacingAndGlyphs">読谷村</text><text transform="translate(1217.50 169.00) scale(1 1.06)">(38,532)</text></g>
<path d="M734.28 457.4V534.9" stroke="#4e79a7" stroke-width="1.67" fill="none" opacity="0.9"/>
<g fill="#4e79a7" font-size="14.4px" text-anchor="middle"><text x="734.28" y="550.0" font-size="13.6px" textLength="24.9" lengthAdjust="spacingAndGlyphs">早川町</text><text transform="translate(734.28 567.90) scale(1 1.06)">(975)</text></g>
<path d="M1254.47 450.4V372.4" stroke="#4e79a7" stroke-width="1.67" fill="none" opacity="0.9"/>
<g fill="#4e79a7" font-size="14.4px" text-anchor="middle"><text x="1254.47" y="348.6" font-size="13.6px" textLength="24.9" lengthAdjust="spacingAndGlyphs">府中町</text><text transform="translate(1254.47 366.40) scale(1 1.06)">(51,053)</text></g>
<path d="M881.51 655.0V732.5" stroke="#e15759" stroke-width="1.67" fill="none" opacity="0.9"/>
<g fill="#e15759" font-size="14.4px" text-anchor="middle"><text x="881.51" y="747.6" font-size="13.6px" textLength="33.6" lengthAdjust="spacingAndGlyphs">歌志内市</text><text transform="translate(881.51 765.50) scale(1 1.06)">(2,989)</text></g>
<path d="M1988.59 648.0V570.0" stroke="#e15759" stroke-width="1.67" fill="none" opacity="0.9"/>
<g fill="#e15759" font-size="14.4px" text-anchor="middle"><text x="1988.59" y="546.2" font-size="13.6px" textLength="24.9" lengthAdjust="spacingAndGlyphs">東京都</text><text transform="translate(1988.59 564.00) scale(1 1.06)">(13,613,660)</text></g>
<rect x="1847.6" y="699.7" width="220.8" height="90.8" rx="4.2" fill="#1c1e28" stroke="#2c2f3c" stroke-width="1.67"/>
<rect x="1854.8" y="707.9" width="39.4" height="15.2" fill="#e15759"/>
<text x="1908.0" y="722.0" fill="#e4e6ec" font-size="18.75px" xml:space="preserve">City  (n=817)</text>
<rect x="1854.8" y="736.3" width="39.4" height="15.2" fill="#4e79a7"/>
<text x="1908.0" y="750.4" fill="#e4e6ec" font-size="18.75px" xml:space="preserve">Town  (n=738)</text>
<rect x="1854.8" y="764.7" width="39.4" height="15.2" fill="#59a14f"/>
<text x="1908.0" y="778.8" fill="#e4e6ec" font-size="18.75px" xml:space="preserve">Village  (n=183)</text>
</svg>
</body></html>
